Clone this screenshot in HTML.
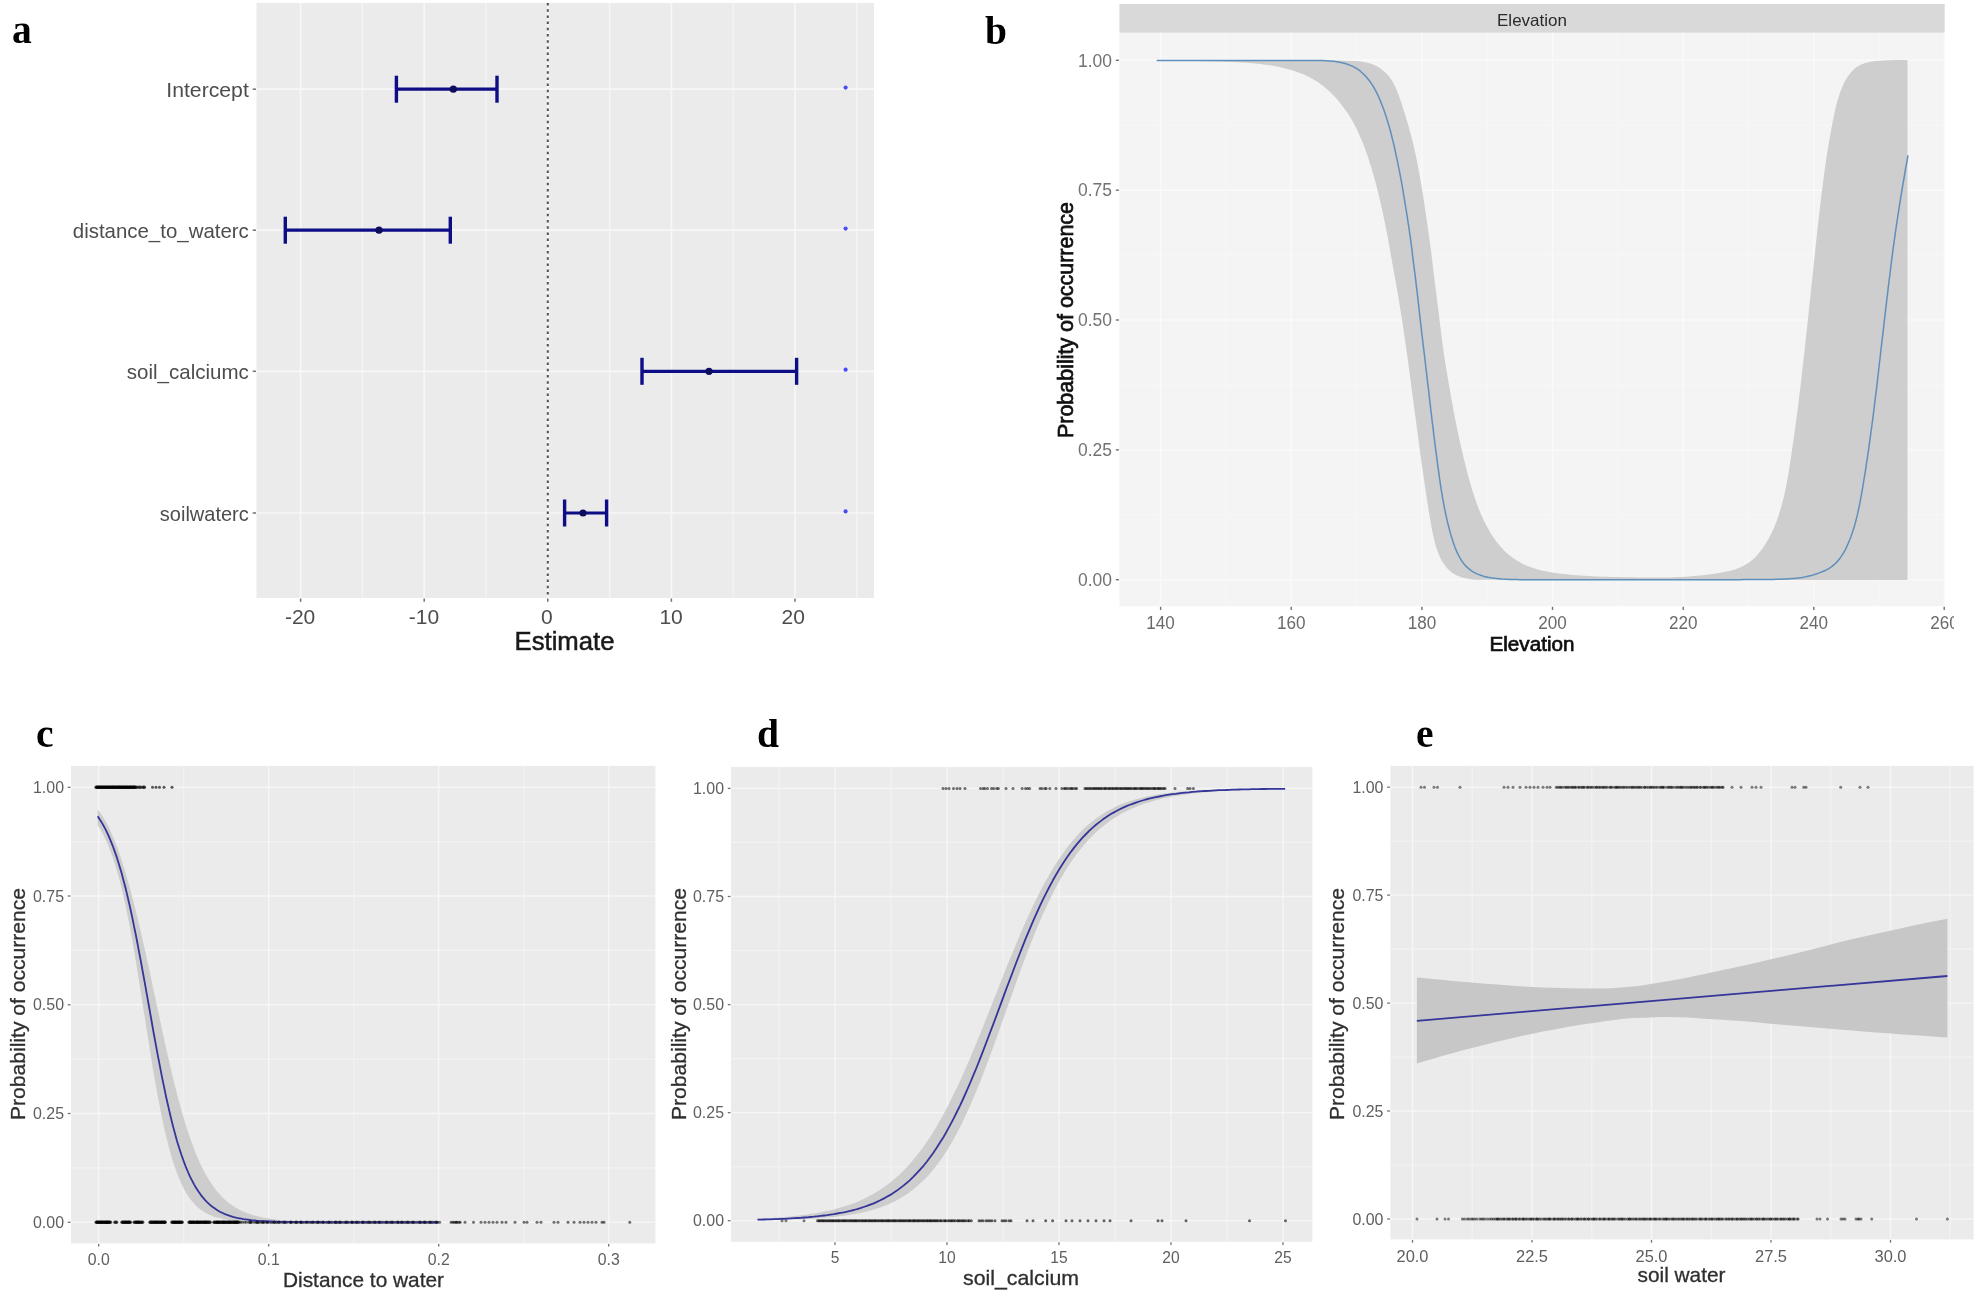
<!DOCTYPE html>
<html lang="en">
<head>
<meta charset="utf-8">
<title>Model estimates and response curves</title>
<style>html,body{margin:0;padding:0;background:#fff}body{width:1983px;height:1298px;overflow:hidden}svg{display:block}</style>
</head>
<body>
<svg width="1983" height="1298" viewBox="0 0 1983 1298" font-family='"Liberation Sans", Arial, sans-serif'>
<defs><filter id="soft" x="-2%" y="-2%" width="104%" height="104%"><feGaussianBlur stdDeviation="0.7"/></filter></defs>
<rect width="1983" height="1298" fill="#ffffff"/>
<g filter="url(#soft)">
<text x="12" y="42.7" font-size="39.5" fill="#000" text-anchor="start" font-family='"Liberation Serif", "Times New Roman", serif' font-weight="bold">a</text>
<text x="985" y="43.8" font-size="39.5" fill="#000" text-anchor="start" font-family='"Liberation Serif", "Times New Roman", serif' font-weight="bold">b</text>
<text x="36" y="747" font-size="39.5" fill="#000" text-anchor="start" font-family='"Liberation Serif", "Times New Roman", serif' font-weight="bold">c</text>
<text x="757" y="747" font-size="39.5" fill="#000" text-anchor="start" font-family='"Liberation Serif", "Times New Roman", serif' font-weight="bold">d</text>
<text x="1416" y="747" font-size="39.5" fill="#000" text-anchor="start" font-family='"Liberation Serif", "Times New Roman", serif' font-weight="bold">e</text>
<rect x="256.5" y="3" width="617.5" height="595" fill="#ebebeb"/>
<line x1="362.4" y1="3" x2="362.4" y2="598" stroke="#f5f5f5" stroke-width="1.3"/>
<line x1="486" y1="3" x2="486" y2="598" stroke="#f5f5f5" stroke-width="1.3"/>
<line x1="609.6" y1="3" x2="609.6" y2="598" stroke="#f5f5f5" stroke-width="1.3"/>
<line x1="733.2" y1="3" x2="733.2" y2="598" stroke="#f5f5f5" stroke-width="1.3"/>
<line x1="856.8" y1="3" x2="856.8" y2="598" stroke="#f5f5f5" stroke-width="1.3"/>
<line x1="300.6" y1="3" x2="300.6" y2="598" stroke="#f7f7f7" stroke-width="1.7"/>
<line x1="300.6" y1="598.5" x2="300.6" y2="601.8" stroke="#707070" stroke-width="1.5"/>
<text x="300.1" y="623.7" font-size="21" fill="#4d4d4d" text-anchor="middle">-20</text>
<line x1="424.2" y1="3" x2="424.2" y2="598" stroke="#f7f7f7" stroke-width="1.7"/>
<line x1="424.2" y1="598.5" x2="424.2" y2="601.8" stroke="#707070" stroke-width="1.5"/>
<text x="423.9" y="623.7" font-size="21" fill="#4d4d4d" text-anchor="middle">-10</text>
<line x1="547.8" y1="3" x2="547.8" y2="598" stroke="#f7f7f7" stroke-width="1.7"/>
<line x1="547.8" y1="598.5" x2="547.8" y2="601.8" stroke="#707070" stroke-width="1.5"/>
<text x="546.8" y="623.7" font-size="21" fill="#4d4d4d" text-anchor="middle">0</text>
<line x1="671.4" y1="3" x2="671.4" y2="598" stroke="#f7f7f7" stroke-width="1.7"/>
<line x1="671.4" y1="598.5" x2="671.4" y2="601.8" stroke="#707070" stroke-width="1.5"/>
<text x="671.1" y="623.7" font-size="21" fill="#4d4d4d" text-anchor="middle">10</text>
<line x1="795" y1="3" x2="795" y2="598" stroke="#f7f7f7" stroke-width="1.7"/>
<line x1="795" y1="598.5" x2="795" y2="601.8" stroke="#707070" stroke-width="1.5"/>
<text x="793.3" y="623.7" font-size="21" fill="#4d4d4d" text-anchor="middle">20</text>
<line x1="256.5" y1="89.2" x2="874" y2="89.2" stroke="#f7f7f7" stroke-width="1.7"/>
<line x1="252.7" y1="89.2" x2="256" y2="89.2" stroke="#707070" stroke-width="1.5"/>
<line x1="256.5" y1="230.2" x2="874" y2="230.2" stroke="#f7f7f7" stroke-width="1.7"/>
<line x1="252.7" y1="230.2" x2="256" y2="230.2" stroke="#707070" stroke-width="1.5"/>
<line x1="256.5" y1="371.3" x2="874" y2="371.3" stroke="#f7f7f7" stroke-width="1.7"/>
<line x1="252.7" y1="371.3" x2="256" y2="371.3" stroke="#707070" stroke-width="1.5"/>
<line x1="256.5" y1="513" x2="874" y2="513" stroke="#f7f7f7" stroke-width="1.7"/>
<line x1="252.7" y1="513" x2="256" y2="513" stroke="#707070" stroke-width="1.5"/>
<line x1="547.8" y1="3" x2="547.8" y2="598" stroke="#505050" stroke-width="2.0" stroke-dasharray="2.5 3.7"/>
<text x="248.8" y="97.2" font-size="21" fill="#4d4d4d" text-anchor="end" textLength="82.5" lengthAdjust="spacingAndGlyphs">Intercept</text>
<text x="248.8" y="238.2" font-size="21" fill="#4d4d4d" text-anchor="end" textLength="176" lengthAdjust="spacingAndGlyphs">distance_to_waterc</text>
<text x="248.8" y="379.3" font-size="21" fill="#4d4d4d" text-anchor="end" textLength="122" lengthAdjust="spacingAndGlyphs">soil_calciumc</text>
<text x="248.8" y="521" font-size="21" fill="#4d4d4d" text-anchor="end" textLength="89" lengthAdjust="spacingAndGlyphs">soilwaterc</text>
<line x1="396.4" y1="89.2" x2="497" y2="89.2" stroke="#0c0c86" stroke-width="3.2"/>
<line x1="396.4" y1="75.7" x2="396.4" y2="102.7" stroke="#0c0c86" stroke-width="3.4"/>
<line x1="497" y1="75.7" x2="497" y2="102.7" stroke="#0c0c86" stroke-width="3.4"/>
<circle cx="453.3" cy="89.2" r="3.6" fill="#0a0a5c"/>
<circle cx="845.6" cy="87.6" r="2.1" fill="#4b4bf5"/>
<line x1="285.3" y1="230.2" x2="450.3" y2="230.2" stroke="#0c0c86" stroke-width="3.2"/>
<line x1="285.3" y1="216.7" x2="285.3" y2="243.7" stroke="#0c0c86" stroke-width="3.4"/>
<line x1="450.3" y1="216.7" x2="450.3" y2="243.7" stroke="#0c0c86" stroke-width="3.4"/>
<circle cx="379" cy="230.2" r="3.6" fill="#0a0a5c"/>
<circle cx="845.6" cy="228.6" r="2.1" fill="#4b4bf5"/>
<line x1="642" y1="371.3" x2="796.6" y2="371.3" stroke="#0c0c86" stroke-width="3.2"/>
<line x1="642" y1="357.8" x2="642" y2="384.8" stroke="#0c0c86" stroke-width="3.4"/>
<line x1="796.6" y1="357.8" x2="796.6" y2="384.8" stroke="#0c0c86" stroke-width="3.4"/>
<circle cx="709" cy="371.3" r="3.6" fill="#0a0a5c"/>
<circle cx="845.6" cy="369.7" r="2.1" fill="#4b4bf5"/>
<line x1="564.6" y1="513" x2="606.6" y2="513" stroke="#0c0c86" stroke-width="3.2"/>
<line x1="564.6" y1="499.5" x2="564.6" y2="526.5" stroke="#0c0c86" stroke-width="3.4"/>
<line x1="606.6" y1="499.5" x2="606.6" y2="526.5" stroke="#0c0c86" stroke-width="3.4"/>
<circle cx="583" cy="513" r="3.6" fill="#0a0a5c"/>
<circle cx="845.6" cy="511.4" r="2.1" fill="#4b4bf5"/>
<text x="564.5" y="650" font-size="25.5" fill="#1a1a1a" text-anchor="middle" textLength="100" lengthAdjust="spacingAndGlyphs" stroke="#1a1a1a" stroke-width="0.5">Estimate</text>
<rect x="1119.4" y="4" width="825.3" height="28.8" fill="#d9d9d9"/>
<rect x="1119.4" y="32.8" width="825.3" height="573.5" fill="#f4f4f4"/>
<line x1="1225.9" y1="32.8" x2="1225.9" y2="606.3" stroke="#f7f7f7" stroke-width="0.9"/>
<line x1="1356.6" y1="32.8" x2="1356.6" y2="606.3" stroke="#f7f7f7" stroke-width="0.9"/>
<line x1="1487.2" y1="32.8" x2="1487.2" y2="606.3" stroke="#f7f7f7" stroke-width="0.9"/>
<line x1="1617.8" y1="32.8" x2="1617.8" y2="606.3" stroke="#f7f7f7" stroke-width="0.9"/>
<line x1="1748.5" y1="32.8" x2="1748.5" y2="606.3" stroke="#f7f7f7" stroke-width="0.9"/>
<line x1="1879.1" y1="32.8" x2="1879.1" y2="606.3" stroke="#f7f7f7" stroke-width="0.9"/>
<line x1="1119.4" y1="514.8" x2="1944.7" y2="514.8" stroke="#f7f7f7" stroke-width="0.9"/>
<line x1="1119.4" y1="384.9" x2="1944.7" y2="384.9" stroke="#f7f7f7" stroke-width="0.9"/>
<line x1="1119.4" y1="255.1" x2="1944.7" y2="255.1" stroke="#f7f7f7" stroke-width="0.9"/>
<line x1="1119.4" y1="125.2" x2="1944.7" y2="125.2" stroke="#f7f7f7" stroke-width="0.9"/>
<line x1="1160.6" y1="32.8" x2="1160.6" y2="606.3" stroke="#fafafa" stroke-width="1.4"/>
<line x1="1160.6" y1="606.8" x2="1160.6" y2="609.9" stroke="#707070" stroke-width="1.4"/>
<line x1="1291.2" y1="32.8" x2="1291.2" y2="606.3" stroke="#fafafa" stroke-width="1.4"/>
<line x1="1291.2" y1="606.8" x2="1291.2" y2="609.9" stroke="#707070" stroke-width="1.4"/>
<line x1="1421.9" y1="32.8" x2="1421.9" y2="606.3" stroke="#fafafa" stroke-width="1.4"/>
<line x1="1421.9" y1="606.8" x2="1421.9" y2="609.9" stroke="#707070" stroke-width="1.4"/>
<line x1="1552.5" y1="32.8" x2="1552.5" y2="606.3" stroke="#fafafa" stroke-width="1.4"/>
<line x1="1552.5" y1="606.8" x2="1552.5" y2="609.9" stroke="#707070" stroke-width="1.4"/>
<line x1="1683.2" y1="32.8" x2="1683.2" y2="606.3" stroke="#fafafa" stroke-width="1.4"/>
<line x1="1683.2" y1="606.8" x2="1683.2" y2="609.9" stroke="#707070" stroke-width="1.4"/>
<line x1="1813.8" y1="32.8" x2="1813.8" y2="606.3" stroke="#fafafa" stroke-width="1.4"/>
<line x1="1813.8" y1="606.8" x2="1813.8" y2="609.9" stroke="#707070" stroke-width="1.4"/>
<line x1="1944.4" y1="32.8" x2="1944.4" y2="606.3" stroke="#fafafa" stroke-width="1.4"/>
<line x1="1944.2" y1="606.8" x2="1944.2" y2="609.9" stroke="#707070" stroke-width="1.4"/>
<line x1="1119.4" y1="579.7" x2="1944.7" y2="579.7" stroke="#fafafa" stroke-width="1.4"/>
<line x1="1115.8" y1="579.7" x2="1118.9" y2="579.7" stroke="#707070" stroke-width="1.4"/>
<text x="1112" y="585.9" font-size="17.5" fill="#727272" text-anchor="end" textLength="34" lengthAdjust="spacingAndGlyphs">0.00</text>
<line x1="1119.4" y1="449.9" x2="1944.7" y2="449.9" stroke="#fafafa" stroke-width="1.4"/>
<line x1="1115.8" y1="449.9" x2="1118.9" y2="449.9" stroke="#707070" stroke-width="1.4"/>
<text x="1112" y="456.1" font-size="17.5" fill="#727272" text-anchor="end" textLength="34" lengthAdjust="spacingAndGlyphs">0.25</text>
<line x1="1119.4" y1="320" x2="1944.7" y2="320" stroke="#fafafa" stroke-width="1.4"/>
<line x1="1115.8" y1="320" x2="1118.9" y2="320" stroke="#707070" stroke-width="1.4"/>
<text x="1112" y="326.2" font-size="17.5" fill="#727272" text-anchor="end" textLength="34" lengthAdjust="spacingAndGlyphs">0.50</text>
<line x1="1119.4" y1="190.2" x2="1944.7" y2="190.2" stroke="#fafafa" stroke-width="1.4"/>
<line x1="1115.8" y1="190.2" x2="1118.9" y2="190.2" stroke="#707070" stroke-width="1.4"/>
<text x="1112" y="196.4" font-size="17.5" fill="#727272" text-anchor="end" textLength="34" lengthAdjust="spacingAndGlyphs">0.75</text>
<line x1="1119.4" y1="60.3" x2="1944.7" y2="60.3" stroke="#fafafa" stroke-width="1.4"/>
<line x1="1115.8" y1="60.3" x2="1118.9" y2="60.3" stroke="#707070" stroke-width="1.4"/>
<text x="1112" y="66.5" font-size="17.5" fill="#727272" text-anchor="end" textLength="34" lengthAdjust="spacingAndGlyphs">1.00</text>
<polygon points="1156.7,60.5 1161.9,60.5 1165.1,60.5 1168.8,60.5 1172.7,60.5 1175.7,60.5 1179.7,60.5 1183.7,60.5 1187.7,60.5 1191.7,60.5 1195.7,60.5 1199.7,60.5 1203.7,60.5 1207.7,60.5 1210.7,60.5 1214.7,60.5 1218.7,60.5 1222.7,60.5 1226.7,60.5 1230.7,60.5 1234.7,60.5 1238.7,60.5 1241.7,60.5 1245.7,60.5 1249.7,60.5 1253.7,60.5 1257.7,60.5 1261.7,60.5 1265.7,60.5 1269.7,60.5 1273.7,60.5 1276.7,60.5 1280.7,60.5 1284.7,60.5 1288.7,60.5 1292.7,60.5 1296.7,60.5 1300.7,60.5 1304.7,60.5 1308.7,60.5 1311.7,60.5 1315.7,60.5 1319.7,60.5 1323.7,60.6 1327.8,60.6 1331.8,60.6 1335.8,60.6 1339.8,60.6 1342.8,60.7 1346.8,60.8 1350.8,60.9 1354.8,61 1358.8,61.3 1362.7,61.8 1366.6,62.5 1370.4,63.6 1374.1,65 1376.8,66.3 1380.2,68.3 1383.3,70.7 1386.2,73.3 1388.9,76.3 1391.2,79.5 1393.3,82.8 1395.1,86.4 1396.7,90 1397.8,92.8 1399.2,96.6 1400.5,100.3 1401.8,104.1 1403,108 1404.2,111.8 1405.4,115.6 1406.5,119.4 1407.4,122.3 1408.5,126.1 1409.6,130 1410.6,133.9 1411.7,137.7 1412.6,141.6 1413.6,145.5 1414.5,149.4 1415.3,153.3 1416,156.2 1416.8,160.2 1417.6,164.1 1418.3,168 1419,171.9 1419.8,175.9 1420.4,179.8 1421.1,183.8 1421.8,187.7 1422.2,190.7 1422.9,194.6 1423.5,198.6 1424.1,202.5 1424.7,206.5 1425.3,210.4 1425.9,214.4 1426.5,218.4 1426.9,221.3 1427.5,225.3 1428,229.2 1428.6,233.2 1429.2,237.2 1429.7,241.1 1430.2,245.1 1430.8,249.1 1431.3,253 1431.6,256 1432.1,260 1432.6,264 1433.1,267.9 1433.6,271.9 1434.1,275.9 1434.5,279.8 1435,283.8 1435.5,287.8 1435.9,290.8 1436.4,294.7 1436.9,298.7 1437.4,302.7 1437.9,306.6 1438.4,310.6 1438.9,314.6 1439.4,318.6 1439.7,321.5 1440.2,325.5 1440.7,329.5 1441.2,333.4 1441.7,337.4 1442.2,341.4 1442.7,345.3 1443.3,349.3 1443.8,353.3 1444.3,356.2 1444.9,360.2 1445.5,364.1 1446.1,368.1 1446.8,372 1447.5,376 1448.2,379.9 1448.8,383.9 1449.5,387.8 1450,390.8 1450.7,394.7 1451.4,398.7 1452.1,402.6 1452.8,406.5 1453.5,410.5 1454.3,414.4 1455,418.3 1455.6,421.3 1456.4,425.2 1457.2,429.1 1458,433 1458.9,436.9 1459.7,440.9 1460.6,444.8 1461.5,448.7 1462.4,452.6 1463.1,455.5 1464,459.4 1465,463.3 1465.9,467.1 1466.9,471 1467.9,474.9 1469,478.8 1470.1,482.6 1471.2,486.4 1472,489.3 1473.2,493.1 1474.5,497 1475.8,500.7 1477.1,504.5 1478.5,508.2 1480,511.9 1481.6,515.6 1482.9,518.3 1484.6,522 1486.4,525.5 1488.3,529 1490.3,532.5 1492.5,535.9 1494.7,539.2 1497.1,542.4 1499.6,545.5 1501.6,547.8 1504.3,550.7 1507.2,553.4 1510.3,555.9 1513.5,558.3 1516.8,560.5 1520.3,562.5 1523.8,564.4 1527.5,566 1530.3,567 1534,568.3 1537.9,569.4 1541.8,570.4 1545.7,571.3 1549.6,572 1553.6,572.7 1557.5,573.3 1560.5,573.7 1564.5,574.1 1568.5,574.6 1572.4,574.9 1576.4,575.3 1580.4,575.6 1584.4,575.8 1588.4,576.1 1592.4,576.3 1595.4,576.4 1599.4,576.6 1603.4,576.7 1607.4,576.8 1611.4,576.9 1615.4,577 1619.4,577.1 1623.4,577.2 1627.4,577.2 1630.4,577.3 1634.4,577.3 1638.4,577.4 1642.4,577.4 1646.4,577.5 1650.4,577.5 1654.4,577.5 1658.4,577.5 1661.4,577.5 1665.4,577.5 1669.4,577.4 1673.5,577.3 1677.5,577.1 1681.5,576.9 1685.6,576.7 1689.6,576.4 1693.6,576 1696.6,575.8 1700.6,575.4 1704.6,574.9 1708.6,574.5 1712.5,573.9 1716.5,573.4 1720.4,572.8 1724.3,572.1 1728.2,571.3 1731.1,570.6 1734.9,569.4 1738.7,568 1742.3,566.4 1745.8,564.5 1749.1,562.4 1752.2,560 1755.1,557.4 1757.1,555.2 1759.7,552.1 1762.2,548.9 1764.4,545.5 1766.6,542.1 1768.6,538.7 1770.5,535.1 1772.3,531.5 1773.9,527.9 1775.1,525.1 1776.5,521.4 1777.9,517.6 1779.1,513.8 1780.3,510 1781.4,506.2 1782.5,502.3 1783.4,498.4 1784.4,494.5 1785,491.6 1785.8,487.7 1786.6,483.7 1787.3,479.8 1788,475.9 1788.7,471.9 1789.3,468 1789.9,464 1790.4,461 1791,457.1 1791.6,453.1 1792.1,449.1 1792.7,445.2 1793.3,441.2 1793.9,437.3 1794.4,433.3 1795,429.3 1795.4,426.4 1795.9,422.4 1796.4,418.4 1796.9,414.5 1797.5,410.5 1798,406.5 1798.5,402.6 1799,398.6 1799.4,394.6 1799.8,391.6 1800.3,387.7 1800.8,383.7 1801.2,379.7 1801.7,375.7 1802.1,371.8 1802.6,367.8 1803,363.8 1803.4,360.8 1803.8,356.9 1804.3,352.9 1804.7,348.9 1805.1,344.9 1805.6,341 1806,337 1806.4,333 1806.9,329 1807.2,326 1807.6,322.1 1808.1,318.1 1808.5,314.1 1808.9,310.1 1809.3,306.1 1809.7,302.2 1810.2,298.2 1810.6,294.2 1810.9,291.2 1811.3,287.2 1811.7,283.3 1812.2,279.3 1812.6,275.3 1813,271.3 1813.4,267.4 1813.8,263.4 1814.2,260.4 1814.6,256.4 1815,252.4 1815.4,248.4 1815.8,244.5 1816.3,240.5 1816.7,236.5 1817.1,232.5 1817.6,228.6 1817.9,225.6 1818.3,221.6 1818.8,217.6 1819.3,213.7 1819.7,209.7 1820.2,205.7 1820.7,201.7 1821.1,197.8 1821.6,193.8 1822,190.8 1822.5,186.8 1823,182.9 1823.5,178.9 1824,174.9 1824.6,171 1825.1,167 1825.7,163 1826.1,160.1 1826.7,156.1 1827.3,152.2 1828,148.2 1828.6,144.3 1829.3,140.3 1830,136.4 1830.7,132.4 1831.4,128.5 1832,125.6 1832.7,121.6 1833.5,117.7 1834.4,113.8 1835.2,109.8 1836.1,105.9 1837.1,102.1 1838.2,98.2 1839.5,94.4 1840.4,91.6 1841.9,87.9 1843.5,84.2 1845.3,80.6 1847.3,77.2 1849.6,73.9 1852.2,70.9 1855,68.3 1857.4,66.6 1860.8,64.7 1864.4,63.3 1868.3,62.3 1872.2,61.5 1876.1,61 1880.1,60.7 1884.1,60.4 1888.1,60.3 1891.1,60.2 1895,60.1 1898.7,60.1 1901.9,60.1 1907.2,60.1 1907.5,60.3 1907.5,580 1907.5,580 1475.1,579.8 1470.5,579.3 1469.1,579.1 1466.7,578.6 1464,578 1461.3,577.2 1459.5,576.6 1456.8,575.4 1454.2,574 1451.8,572.4 1450.3,571.2 1448.1,569.2 1446.1,567 1444.3,564.6 1443.2,563 1441.7,560.4 1440.3,557.8 1439.5,556 1438.3,553.2 1437.3,550.4 1436.3,547.5 1435.7,545.6 1434.9,542.7 1434.2,539.8 1433.5,536.9 1433.1,534.9 1432.4,532 1431.9,529.1 1431.3,526.1 1431,524.1 1430.5,521.2 1430,518.2 1429.6,516.2 1429.1,513.3 1428.6,510.3 1428.2,507.3 1427.9,505.4 1427.4,502.4 1426.9,499.4 1426.5,496.5 1426.2,494.5 1425.7,491.5 1425.3,488.5 1424.9,485.6 1424.6,483.6 1424.1,480.6 1423.7,477.7 1423.4,475.7 1423,472.7 1422.6,469.7 1422.1,466.8 1421.9,464.8 1421.4,461.8 1421,458.8 1420.6,455.9 1420.3,453.9 1419.9,450.9 1419.5,447.9 1419.1,445 1418.9,443 1418.5,440 1418.1,437 1417.8,435 1417.4,432.1 1417,429.1 1416.6,426.1 1416.4,424.1 1416,421.2 1415.6,418.2 1415.2,415.2 1414.9,413.2 1414.5,410.2 1414.1,407.3 1413.7,404.3 1413.5,402.3 1413.1,399.3 1412.7,396.4 1412.4,394.4 1412,391.4 1411.6,388.4 1411.2,385.5 1411,383.5 1410.6,380.5 1410.2,377.5 1409.8,374.5 1409.5,372.6 1409.1,369.6 1408.7,366.6 1408.3,363.6 1408.1,361.7 1407.7,358.7 1407.2,355.7 1407,353.7 1406.6,350.8 1406.1,347.8 1405.7,344.8 1405.4,342.8 1405,339.9 1404.5,336.9 1404.1,333.9 1403.8,331.9 1403.4,329 1402.9,326 1402.5,323 1402.2,321.1 1401.7,318.1 1401.2,315.1 1400.9,313.2 1400.5,310.2 1400,307.2 1399.5,304.3 1399.2,302.3 1398.7,299.3 1398.2,296.4 1397.7,293.4 1397.4,291.4 1396.8,288.5 1396.3,285.5 1395.8,282.6 1395.5,280.6 1394.9,277.6 1394.4,274.7 1394,272.7 1393.5,269.8 1393,266.8 1392.4,263.9 1392.1,261.9 1391.6,258.9 1391,256 1390.5,253 1390.2,251.1 1389.7,248.1 1389.1,245.1 1388.6,242.2 1388.2,240.2 1387.7,237.3 1387.2,234.3 1386.6,231.4 1386.2,229.4 1385.6,226.5 1385,223.5 1384.6,221.6 1384,218.6 1383.4,215.7 1382.8,212.7 1382.4,210.8 1381.7,207.9 1381.1,204.9 1380.4,202 1379.9,200.1 1379.2,197.1 1378.5,194.2 1377.8,191.3 1377.3,189.4 1376.6,186.5 1375.8,183.6 1375.3,181.6 1374.5,178.7 1373.7,175.8 1372.9,172.9 1372.3,171 1371.5,168.1 1370.6,165.3 1369.7,162.4 1369.1,160.5 1368.2,157.7 1367.2,154.8 1366.2,152 1365.5,150.1 1364.5,147.3 1363.4,144.5 1362.6,142.6 1361.5,139.9 1360.3,137.1 1359.1,134.4 1358.3,132.5 1357,129.8 1355.7,127.1 1354.3,124.5 1353.4,122.7 1351.9,120.1 1350.4,117.5 1348.8,115 1347.7,113.3 1346,110.8 1344.2,108.4 1343,106.8 1341.2,104.4 1339.3,102.1 1337.4,99.8 1336.1,98.3 1334.1,96 1332,93.9 1329.9,91.8 1328.4,90.4 1326.2,88.4 1323.8,86.5 1321.5,84.7 1319.8,83.5 1317.4,81.8 1314.8,80.3 1313.1,79.2 1310.5,77.8 1307.8,76.4 1305.1,75.1 1303.3,74.3 1300.5,73.2 1297.7,72.2 1294.9,71.2 1293,70.6 1290.1,69.7 1287.2,68.9 1284.3,68.2 1282.3,67.7 1279.4,67.1 1276.5,66.5 1274.5,66.1 1271.6,65.6 1268.6,65.1 1265.6,64.7 1263.6,64.5 1260.6,64.1 1257.7,63.8 1254.7,63.5 1252.7,63.3 1249.7,63.1 1246.7,62.8 1243.7,62.6 1241.7,62.5 1238.7,62.3 1235.7,62.2 1233.7,62.1 1230.7,62 1227.7,61.9 1224.7,61.8 1222.7,61.7 1219.7,61.6 1216.7,61.5 1213.7,61.4 1211.7,61.4 1208.7,61.3 1205.7,61.2 1202.7,61.2 1200.7,61.1 1197.7,61.1 1194.7,61 1192.7,61 1189.7,60.9 1186.7,60.9 1183.7,60.8 1181.7,60.8 1178.7,60.7 1175.7,60.7 1172.7,60.7 1170.8,60.7 1167.9,60.6 1165.1,60.6 1162.7,60.6 1161.2,60.6 1156.7,60.5" fill="#cecece"/>
<polyline points="1156.7,60.5 1162,60.5 1164.3,60.5 1168,60.5 1170.9,60.5 1174.8,60.5 1178.9,60.5 1181.9,60.5 1185.9,60.5 1188.9,60.5 1192.9,60.5 1197,60.5 1200,60.5 1204,60.5 1207,60.5 1211,60.5 1215,60.5 1218,60.5 1222,60.5 1226,60.5 1229,60.5 1233,60.5 1236,60.5 1240,60.5 1244,60.5 1247,60.5 1251,60.5 1254,60.5 1258,60.5 1262,60.5 1265,60.5 1269,60.5 1272,60.5 1276,60.5 1280,60.5 1283,60.5 1287,60.5 1290,60.5 1294,60.5 1297.9,60.5 1300.9,60.5 1304.9,60.5 1307.9,60.5 1311.9,60.5 1315.9,60.6 1318.9,60.6 1322.8,60.6 1325.8,60.7 1329.8,60.9 1333.8,61.3 1336.7,61.7 1340.7,62.4 1344.5,63.3 1347.4,64.2 1351.1,65.6 1353.7,66.9 1357.2,68.9 1360.4,71.2 1362.6,73.2 1365.4,75.9 1367.4,78.2 1369.8,81.3 1372.1,84.6 1373.7,87.2 1375.6,90.7 1377,93.3 1378.7,97 1380.2,100.6 1381.4,103.4 1382.8,107.1 1383.9,110 1385.2,113.7 1386.4,117.5 1387.3,120.4 1388.5,124.2 1389.3,127.1 1390.4,131 1391.4,134.8 1392.1,137.7 1393.1,141.6 1393.8,144.6 1394.7,148.5 1395.5,152.4 1396.1,155.3 1397,159.2 1397.8,163.1 1398.4,166.1 1399.2,170 1399.8,173 1400.5,176.9 1401.3,180.8 1401.8,183.8 1402.5,187.7 1403,190.7 1403.6,194.6 1404.3,198.6 1404.8,201.5 1405.4,205.5 1405.9,208.4 1406.5,212.4 1407.2,216.4 1407.6,219.3 1408.2,223.3 1408.7,226.2 1409.3,230.2 1409.8,234.2 1410.3,237.1 1410.8,241.1 1411.2,244.1 1411.7,248 1412.2,252 1412.5,255 1413,259 1413.5,262.9 1413.9,265.9 1414.4,269.9 1414.8,272.9 1415.3,276.8 1415.8,280.8 1416.1,283.8 1416.6,287.8 1417,290.7 1417.4,294.7 1417.9,298.7 1418.2,301.7 1418.7,305.7 1419,308.6 1419.4,312.6 1419.9,316.6 1420.2,319.6 1420.7,323.6 1421,326.5 1421.5,330.5 1421.9,334.5 1422.3,337.5 1422.8,341.4 1423.1,344.4 1423.6,348.4 1424.1,352.4 1424.5,355.4 1424.9,359.3 1425.3,362.3 1425.7,366.3 1426.2,370.3 1426.6,373.2 1427,377.2 1427.5,381.2 1427.8,384.2 1428.3,388.1 1428.7,391.1 1429.1,395.1 1429.6,399.1 1429.9,402.1 1430.4,406 1430.7,409 1431.2,413 1431.7,417 1432,420 1432.5,423.9 1432.9,426.9 1433.4,430.9 1433.8,434.9 1434.2,437.8 1434.7,441.8 1435.1,444.8 1435.6,448.8 1436.1,452.7 1436.5,455.7 1437,459.7 1437.4,462.6 1437.9,466.6 1438.5,470.6 1438.9,473.6 1439.4,477.5 1439.9,480.5 1440.4,484.5 1441,488.4 1441.5,491.4 1442.2,495.3 1442.8,499.3 1443.4,502.2 1444.1,506.1 1444.7,509.1 1445.5,513 1446.3,516.9 1447,519.9 1447.9,523.8 1448.7,526.7 1449.7,530.5 1450.7,534.4 1451.6,537.3 1452.8,541.1 1453.8,544 1455.1,547.7 1456.7,551.4 1457.9,554.2 1459.8,557.7 1461.3,560.2 1463.6,563.4 1466.2,566.4 1468.4,568.4 1471.5,570.8 1474,572.3 1477.6,574.1 1481.3,575.5 1484.1,576.4 1488,577.3 1490.9,577.8 1494.9,578.3 1498.9,578.7 1501.9,579 1505.9,579.2 1509.9,579.4 1512.9,579.5 1516.9,579.6 1519.9,579.7 1523.9,579.7 1527.9,579.8 1530.9,579.8 1534.9,579.8 1537.9,579.8 1541.9,579.8 1545.9,579.8 1548.9,579.8 1552.9,579.8 1555.9,579.8 1559.9,579.8 1563.9,579.8 1566.9,579.8 1570.9,579.8 1573.9,579.8 1577.9,579.8 1581.9,579.8 1584.9,579.8 1588.9,579.8 1591.9,579.8 1595.9,579.8 1599.9,579.8 1602.9,579.8 1606.9,579.8 1609.9,579.8 1613.9,579.8 1617.9,579.8 1620.9,579.8 1624.9,579.8 1628.9,579.8 1631.9,579.8 1636,579.8 1639,579.8 1643,579.8 1647,579.8 1650,579.8 1654,579.8 1657,579.8 1661,579.8 1665,579.8 1668,579.8 1672,579.8 1675,579.8 1679,579.8 1683,579.8 1686,579.8 1690,579.8 1693,579.8 1697,579.8 1701,579.8 1704,579.8 1708,579.8 1711,579.8 1715,579.7 1719,579.7 1722,579.7 1726,579.7 1729,579.7 1733,579.7 1737,579.7 1740,579.7 1744,579.6 1748,579.6 1751,579.6 1755,579.6 1758,579.6 1762,579.5 1766,579.5 1769,579.4 1773,579.4 1776,579.3 1780.1,579.2 1784.1,579 1787.1,578.9 1791.1,578.6 1794.1,578.4 1798,578 1802,577.5 1804.9,577 1808.8,576.1 1811.7,575.4 1815.5,574.2 1819.3,572.9 1822.1,571.8 1825.8,570.2 1828.4,568.8 1831.7,566.6 1834.7,564.1 1836.8,562.1 1839.4,559 1841.1,556.6 1843.2,553.3 1845.2,549.8 1846.5,547.1 1848.2,543.4 1849.7,539.8 1850.8,536.9 1852.1,533.2 1853.1,530.3 1854.3,526.5 1855.4,522.6 1856.1,519.7 1857.1,515.9 1857.8,512.9 1858.6,509 1859.5,505.1 1860,502.2 1860.8,498.2 1861.3,495.3 1862,491.3 1862.7,487.4 1863.2,484.4 1863.8,480.5 1864.3,477.5 1865,473.5 1865.6,469.6 1866,466.6 1866.6,462.7 1867.1,459.7 1867.7,455.7 1868.2,451.8 1868.7,448.8 1869.2,444.8 1869.8,440.9 1870.2,437.9 1870.7,433.9 1871.1,431 1871.7,427 1872.2,423 1872.6,420.1 1873.1,416.1 1873.5,413.1 1874,409.1 1874.5,405.2 1874.8,402.2 1875.3,398.2 1875.7,395.2 1876.2,391.3 1876.7,387.3 1877,384.3 1877.5,380.3 1877.8,377.3 1878.3,373.4 1878.7,369.4 1879.1,366.4 1879.5,362.4 1879.9,359.5 1880.3,355.5 1880.8,351.5 1881.1,348.5 1881.6,344.5 1881.9,341.6 1882.4,337.6 1882.9,333.6 1883.2,330.6 1883.7,326.6 1884.1,322.7 1884.5,319.7 1884.9,315.7 1885.3,312.7 1885.7,308.8 1886.2,304.8 1886.6,301.8 1887,297.8 1887.4,294.8 1887.9,290.9 1888.3,286.9 1888.7,283.9 1889.2,279.9 1889.6,277 1890.1,273 1890.6,269 1890.9,266 1891.4,262.1 1891.8,259.1 1892.3,255.1 1892.8,251.2 1893.2,248.2 1893.8,244.2 1894.2,241.2 1894.7,237.3 1895.3,233.3 1895.7,230.3 1896.3,226.4 1896.7,223.4 1897.3,219.5 1897.9,215.5 1898.4,212.5 1899,208.6 1899.6,204.6 1900.1,201.7 1900.7,197.7 1901.2,194.7 1901.8,190.8 1902.5,186.8 1903,183.9 1903.7,179.9 1904.2,177 1904.9,173 1905.5,169.2 1906,166.3 1906.7,162.8 1907.1,160.5 1908,155.3" fill="none" stroke="#5f8fbc" stroke-width="1.5" stroke-linejoin="round"/>
<clipPath id="cb"><rect x="1100" y="600" width="854" height="40"/></clipPath>
<g clip-path="url(#cb)">
<text x="1160.6" y="628.5" font-size="17.5" fill="#6a6a6a" text-anchor="middle" textLength="28.5" lengthAdjust="spacingAndGlyphs">140</text>
<text x="1291.2" y="628.5" font-size="17.5" fill="#6a6a6a" text-anchor="middle" textLength="28.5" lengthAdjust="spacingAndGlyphs">160</text>
<text x="1421.9" y="628.5" font-size="17.5" fill="#6a6a6a" text-anchor="middle" textLength="28.5" lengthAdjust="spacingAndGlyphs">180</text>
<text x="1552.5" y="628.5" font-size="17.5" fill="#6a6a6a" text-anchor="middle" textLength="28.5" lengthAdjust="spacingAndGlyphs">200</text>
<text x="1683.2" y="628.5" font-size="17.5" fill="#6a6a6a" text-anchor="middle" textLength="28.5" lengthAdjust="spacingAndGlyphs">220</text>
<text x="1813.8" y="628.5" font-size="17.5" fill="#6a6a6a" text-anchor="middle" textLength="28.5" lengthAdjust="spacingAndGlyphs">240</text>
<text x="1944.4" y="628.5" font-size="17.5" fill="#6a6a6a" text-anchor="middle" textLength="28.5" lengthAdjust="spacingAndGlyphs">260</text>
</g>
<text x="1532" y="25.5" font-size="16.5" fill="#2a2a2a" text-anchor="middle" textLength="70" lengthAdjust="spacingAndGlyphs">Elevation</text>
<text x="1532" y="651" font-size="20.5" fill="#111" text-anchor="middle" textLength="85" lengthAdjust="spacingAndGlyphs" stroke="#111" stroke-width="0.7">Elevation</text>
<text x="1073" y="320" font-size="21.3" fill="#111" text-anchor="middle" textLength="236" lengthAdjust="spacingAndGlyphs" transform="rotate(-90 1073 320)" stroke="#111" stroke-width="0.7">Probability of occurrence</text>
<rect x="71" y="765.9" width="584.4" height="477.5" fill="#ebebeb"/>
<line x1="183.7" y1="765.9" x2="183.7" y2="1243.4" stroke="#f3f3f3" stroke-width="1.1"/>
<line x1="353.7" y1="765.9" x2="353.7" y2="1243.4" stroke="#f3f3f3" stroke-width="1.1"/>
<line x1="523.7" y1="765.9" x2="523.7" y2="1243.4" stroke="#f3f3f3" stroke-width="1.1"/>
<line x1="71" y1="1167.9" x2="655.4" y2="1167.9" stroke="#f3f3f3" stroke-width="1.1"/>
<line x1="71" y1="1059.2" x2="655.4" y2="1059.2" stroke="#f3f3f3" stroke-width="1.1"/>
<line x1="71" y1="950.4" x2="655.4" y2="950.4" stroke="#f3f3f3" stroke-width="1.1"/>
<line x1="71" y1="841.7" x2="655.4" y2="841.7" stroke="#f3f3f3" stroke-width="1.1"/>
<line x1="98.7" y1="765.9" x2="98.7" y2="1243.4" stroke="#f6f6f6" stroke-width="1.4"/>
<line x1="98.7" y1="1243.9" x2="98.7" y2="1246.6" stroke="#707070" stroke-width="1.3"/>
<line x1="268.7" y1="765.9" x2="268.7" y2="1243.4" stroke="#f6f6f6" stroke-width="1.4"/>
<line x1="268.7" y1="1243.9" x2="268.7" y2="1246.6" stroke="#707070" stroke-width="1.3"/>
<line x1="438.7" y1="765.9" x2="438.7" y2="1243.4" stroke="#f6f6f6" stroke-width="1.4"/>
<line x1="438.7" y1="1243.9" x2="438.7" y2="1246.6" stroke="#707070" stroke-width="1.3"/>
<line x1="608.7" y1="765.9" x2="608.7" y2="1243.4" stroke="#f6f6f6" stroke-width="1.4"/>
<line x1="608.7" y1="1243.9" x2="608.7" y2="1246.6" stroke="#707070" stroke-width="1.3"/>
<line x1="71" y1="1222.3" x2="655.4" y2="1222.3" stroke="#f6f6f6" stroke-width="1.4"/>
<line x1="67.8" y1="1222.3" x2="70.5" y2="1222.3" stroke="#707070" stroke-width="1.3"/>
<text x="64" y="1227.9" font-size="15.6" fill="#5e5e5e" text-anchor="end" textLength="31" lengthAdjust="spacingAndGlyphs">0.00</text>
<line x1="71" y1="1113.5" x2="655.4" y2="1113.5" stroke="#f6f6f6" stroke-width="1.4"/>
<line x1="67.8" y1="1113.5" x2="70.5" y2="1113.5" stroke="#707070" stroke-width="1.3"/>
<text x="64" y="1119.1" font-size="15.6" fill="#5e5e5e" text-anchor="end" textLength="31" lengthAdjust="spacingAndGlyphs">0.25</text>
<line x1="71" y1="1004.8" x2="655.4" y2="1004.8" stroke="#f6f6f6" stroke-width="1.4"/>
<line x1="67.8" y1="1004.8" x2="70.5" y2="1004.8" stroke="#707070" stroke-width="1.3"/>
<text x="64" y="1010.4" font-size="15.6" fill="#5e5e5e" text-anchor="end" textLength="31" lengthAdjust="spacingAndGlyphs">0.50</text>
<line x1="71" y1="896" x2="655.4" y2="896" stroke="#f6f6f6" stroke-width="1.4"/>
<line x1="67.8" y1="896" x2="70.5" y2="896" stroke="#707070" stroke-width="1.3"/>
<text x="64" y="901.6" font-size="15.6" fill="#5e5e5e" text-anchor="end" textLength="31" lengthAdjust="spacingAndGlyphs">0.75</text>
<line x1="71" y1="787.3" x2="655.4" y2="787.3" stroke="#f6f6f6" stroke-width="1.4"/>
<line x1="67.8" y1="787.3" x2="70.5" y2="787.3" stroke="#707070" stroke-width="1.3"/>
<text x="64" y="792.9" font-size="15.6" fill="#5e5e5e" text-anchor="end" textLength="31" lengthAdjust="spacingAndGlyphs">1.00</text>
<polygon points="97.7,809.4 99.8,812.2 102,815.3 104.1,818.7 106.3,822.5 108.4,826.6 110.5,831.1 112.7,836 114.8,841.2 117,846.8 119.1,852.8 121.3,859.2 123.4,865.9 125.6,872.9 127.7,880.3 129.9,888 132,896 134.1,904.3 136.3,912.9 138.4,921.7 140.6,930.8 142.7,940.2 144.9,949.7 147,959.5 149.2,969.3 151.3,979.3 153.4,989.4 155.6,999.5 157.7,1009.6 159.9,1019.6 162,1029.6 164.2,1039.4 166.3,1049.1 168.5,1058.6 170.6,1067.8 172.7,1076.8 174.9,1085.6 177,1094 179.2,1102.1 181.3,1109.9 183.5,1117.3 185.6,1124.4 187.8,1131.1 189.9,1137.5 192.1,1143.6 194.2,1149.3 196.3,1154.6 198.5,1159.7 200.6,1164.4 202.8,1168.8 204.9,1172.9 207.1,1176.7 209.2,1180.3 211.4,1183.6 213.5,1186.7 215.6,1189.6 217.8,1192.2 219.9,1194.6 222.1,1196.9 224.2,1199 226.4,1200.9 228.5,1202.7 230.7,1204.3 232.8,1205.8 234.9,1207.2 237.1,1208.4 239.2,1209.6 241.4,1210.7 243.5,1211.7 245.7,1212.6 247.8,1213.4 250,1214.1 252.1,1214.8 254.2,1215.5 256.4,1216.1 258.5,1216.6 260.7,1217.1 262.8,1217.5 265,1217.9 267.1,1218.3 269.3,1218.6 271.4,1219 273.6,1219.2 275.7,1219.5 277.8,1219.7 280,1220 282.1,1220.2 284.3,1220.4 286.4,1220.5 288.6,1220.7 290.7,1220.8 292.9,1220.9 295,1221.1 297.1,1221.2 299.3,1221.3 301.4,1221.4 303.6,1221.4 305.7,1221.5 307.9,1221.6 310,1221.6 312.2,1221.7 314.3,1221.7 316.4,1221.8 318.6,1221.8 320.7,1221.9 322.9,1221.9 325,1221.9 327.2,1222 329.3,1222 331.5,1222 333.6,1222.1 335.8,1222.1 337.9,1222.1 340,1222.1 342.2,1222.1 344.3,1222.1 346.5,1222.2 348.6,1222.2 350.8,1222.2 352.9,1222.2 355.1,1222.2 357.2,1222.2 359.3,1222.2 361.5,1222.2 363.6,1222.2 365.8,1222.2 367.9,1222.2 370.1,1222.2 372.2,1222.3 374.4,1222.3 376.5,1222.3 378.6,1222.3 380.8,1222.3 382.9,1222.3 385.1,1222.3 387.2,1222.3 389.4,1222.3 391.5,1222.3 393.7,1222.3 395.8,1222.3 397.9,1222.3 400.1,1222.3 402.2,1222.3 404.4,1222.3 406.5,1222.3 408.7,1222.3 410.8,1222.3 413,1222.3 415.1,1222.3 417.3,1222.3 419.4,1222.3 421.5,1222.3 423.7,1222.3 425.8,1222.3 428,1222.3 430.1,1222.3 432.3,1222.3 434.4,1222.3 436.6,1222.3 438.7,1222.3 438.7,1222.3 436.6,1222.3 434.4,1222.3 432.3,1222.3 430.1,1222.3 428,1222.3 425.8,1222.3 423.7,1222.3 421.5,1222.3 419.4,1222.3 417.3,1222.3 415.1,1222.3 413,1222.3 410.8,1222.3 408.7,1222.3 406.5,1222.3 404.4,1222.3 402.2,1222.3 400.1,1222.3 397.9,1222.3 395.8,1222.3 393.7,1222.3 391.5,1222.3 389.4,1222.3 387.2,1222.3 385.1,1222.3 382.9,1222.3 380.8,1222.3 378.6,1222.3 376.5,1222.3 374.4,1222.3 372.2,1222.3 370.1,1222.3 367.9,1222.3 365.8,1222.3 363.6,1222.3 361.5,1222.3 359.3,1222.3 357.2,1222.3 355.1,1222.3 352.9,1222.3 350.8,1222.3 348.6,1222.3 346.5,1222.3 344.3,1222.3 342.2,1222.3 340,1222.3 337.9,1222.3 335.8,1222.3 333.6,1222.3 331.5,1222.3 329.3,1222.3 327.2,1222.3 325,1222.3 322.9,1222.3 320.7,1222.3 318.6,1222.3 316.4,1222.3 314.3,1222.3 312.2,1222.3 310,1222.3 307.9,1222.3 305.7,1222.3 303.6,1222.3 301.4,1222.3 299.3,1222.3 297.1,1222.3 295,1222.3 292.9,1222.3 290.7,1222.2 288.6,1222.2 286.4,1222.2 284.3,1222.2 282.1,1222.2 280,1222.2 277.8,1222.2 275.7,1222.2 273.6,1222.2 271.4,1222.1 269.3,1222.1 267.1,1222.1 265,1222 262.8,1222 260.7,1222 258.5,1221.9 256.4,1221.9 254.2,1221.8 252.1,1221.7 250,1221.7 247.8,1221.6 245.7,1221.5 243.5,1221.4 241.4,1221.2 239.2,1221.1 237.1,1220.9 234.9,1220.7 232.8,1220.5 230.7,1220.2 228.5,1219.9 226.4,1219.6 224.2,1219.2 222.1,1218.8 219.9,1218.3 217.8,1217.8 215.6,1217.2 213.5,1216.4 211.4,1215.6 209.2,1214.7 207.1,1213.7 204.9,1212.5 202.8,1211.1 200.6,1209.6 198.5,1207.9 196.3,1206 194.2,1203.8 192.1,1201.3 189.9,1198.5 187.8,1195.4 185.6,1191.9 183.5,1188 181.3,1183.6 179.2,1178.7 177,1173.3 174.9,1167.4 172.7,1160.8 170.6,1153.6 168.5,1145.7 166.3,1137.1 164.2,1127.9 162,1117.9 159.9,1107.3 157.7,1096 155.6,1084.1 153.4,1071.7 151.3,1058.8 149.2,1045.5 147,1031.9 144.9,1018.2 142.7,1004.4 140.6,990.6 138.4,977.1 136.3,963.9 134.1,951 132,938.7 129.9,927 127.7,915.9 125.6,905.4 123.4,895.7 121.3,886.6 119.1,878.3 117,870.7 114.8,863.6 112.7,857.2 110.5,851.3 108.4,845.9 106.3,841 104.1,836.5 102,832.4 99.8,828.6 97.7,825.1" fill="#cdcdcd"/>
<g fill="#000" fill-opacity="0.7">
<circle cx="96.1" cy="787.3" r="1.7"/>
<circle cx="96.8" cy="787.3" r="1.7"/>
<circle cx="97.7" cy="787.3" r="1.7"/>
<circle cx="98.1" cy="787.3" r="1.7"/>
<circle cx="99" cy="787.3" r="1.7"/>
<circle cx="99.7" cy="787.3" r="1.7"/>
<circle cx="100.2" cy="787.3" r="1.7"/>
<circle cx="101.1" cy="787.3" r="1.7"/>
<circle cx="101.6" cy="787.3" r="1.7"/>
<circle cx="102.5" cy="787.3" r="1.7"/>
<circle cx="103" cy="787.3" r="1.7"/>
<circle cx="103.8" cy="787.3" r="1.7"/>
<circle cx="104.6" cy="787.3" r="1.7"/>
<circle cx="105.5" cy="787.3" r="1.7"/>
<circle cx="105.9" cy="787.3" r="1.7"/>
<circle cx="106.6" cy="787.3" r="1.7"/>
<circle cx="107.5" cy="787.3" r="1.7"/>
<circle cx="108.3" cy="787.3" r="1.7"/>
<circle cx="108.9" cy="787.3" r="1.7"/>
<circle cx="109.5" cy="787.3" r="1.7"/>
<circle cx="110.4" cy="787.3" r="1.7"/>
<circle cx="110.8" cy="787.3" r="1.7"/>
<circle cx="111.8" cy="787.3" r="1.7"/>
<circle cx="112.3" cy="787.3" r="1.7"/>
<circle cx="112.9" cy="787.3" r="1.7"/>
<circle cx="113.6" cy="787.3" r="1.7"/>
<circle cx="114.4" cy="787.3" r="1.7"/>
<circle cx="115.3" cy="787.3" r="1.7"/>
<circle cx="115.7" cy="787.3" r="1.7"/>
<circle cx="116.6" cy="787.3" r="1.7"/>
<circle cx="117.3" cy="787.3" r="1.7"/>
<circle cx="117.9" cy="787.3" r="1.7"/>
<circle cx="118.7" cy="787.3" r="1.7"/>
<circle cx="119.2" cy="787.3" r="1.7"/>
<circle cx="119.9" cy="787.3" r="1.7"/>
<circle cx="120.6" cy="787.3" r="1.7"/>
<circle cx="121.5" cy="787.3" r="1.7"/>
<circle cx="122.1" cy="787.3" r="1.7"/>
<circle cx="122.8" cy="787.3" r="1.7"/>
<circle cx="123.6" cy="787.3" r="1.7"/>
<circle cx="124.3" cy="787.3" r="1.7"/>
<circle cx="124.9" cy="787.3" r="1.7"/>
<circle cx="125.8" cy="787.3" r="1.7"/>
<circle cx="126.5" cy="787.3" r="1.7"/>
<circle cx="127" cy="787.3" r="1.7"/>
<circle cx="127.8" cy="787.3" r="1.7"/>
<circle cx="128.5" cy="787.3" r="1.7"/>
<circle cx="129.4" cy="787.3" r="1.7"/>
<circle cx="130" cy="787.3" r="1.7"/>
<circle cx="130.5" cy="787.3" r="1.7"/>
<circle cx="131.5" cy="787.3" r="1.7"/>
<circle cx="131.8" cy="787.3" r="1.7"/>
<circle cx="132.7" cy="787.3" r="1.7"/>
<circle cx="133.5" cy="787.3" r="1.7"/>
<circle cx="134" cy="787.3" r="1.7"/>
<circle cx="134.8" cy="787.3" r="1.7"/>
<circle cx="135.3" cy="787.3" r="1.7"/>
<circle cx="136.8" cy="787.3" r="1.7"/>
<circle cx="138.9" cy="787.3" r="1.7"/>
<circle cx="140.7" cy="787.3" r="1.7"/>
<circle cx="143.1" cy="787.3" r="1.7"/>
<circle cx="144.4" cy="787.3" r="1.7"/>
</g>
<g fill="#000" fill-opacity="0.65">
<circle cx="152.5" cy="787.3" r="1.5"/>
<circle cx="156" cy="787.3" r="1.5"/>
<circle cx="159.5" cy="787.3" r="1.5"/>
<circle cx="164" cy="787.3" r="1.5"/>
<circle cx="172" cy="787.3" r="1.5"/>
</g>
<g fill="#000" fill-opacity="0.7">
<circle cx="96.3" cy="1222.3" r="1.8"/>
<circle cx="97.1" cy="1222.3" r="1.8"/>
<circle cx="98" cy="1222.3" r="1.8"/>
<circle cx="98.7" cy="1222.3" r="1.8"/>
<circle cx="99.8" cy="1222.3" r="1.8"/>
<circle cx="100.6" cy="1222.3" r="1.8"/>
<circle cx="101.2" cy="1222.3" r="1.8"/>
<circle cx="102.2" cy="1222.3" r="1.8"/>
<circle cx="102.7" cy="1222.3" r="1.8"/>
<circle cx="103.9" cy="1222.3" r="1.8"/>
<circle cx="104.7" cy="1222.3" r="1.8"/>
<circle cx="105.7" cy="1222.3" r="1.8"/>
<circle cx="106.4" cy="1222.3" r="1.8"/>
<circle cx="107" cy="1222.3" r="1.8"/>
<circle cx="107.9" cy="1222.3" r="1.8"/>
<circle cx="108.8" cy="1222.3" r="1.8"/>
<circle cx="109.3" cy="1222.3" r="1.8"/>
<circle cx="110.4" cy="1222.3" r="1.8"/>
<circle cx="115" cy="1222.3" r="1.8"/>
<circle cx="116.5" cy="1222.3" r="1.8"/>
<circle cx="122.1" cy="1222.3" r="1.8"/>
<circle cx="123" cy="1222.3" r="1.8"/>
<circle cx="123.8" cy="1222.3" r="1.8"/>
<circle cx="125.1" cy="1222.3" r="1.8"/>
<circle cx="125.7" cy="1222.3" r="1.8"/>
<circle cx="126.6" cy="1222.3" r="1.8"/>
<circle cx="127.6" cy="1222.3" r="1.8"/>
<circle cx="128.8" cy="1222.3" r="1.8"/>
<circle cx="129.2" cy="1222.3" r="1.8"/>
<circle cx="130.3" cy="1222.3" r="1.8"/>
<circle cx="134.3" cy="1222.3" r="1.8"/>
<circle cx="135.5" cy="1222.3" r="1.8"/>
<circle cx="136.5" cy="1222.3" r="1.8"/>
<circle cx="137.5" cy="1222.3" r="1.8"/>
<circle cx="138.2" cy="1222.3" r="1.8"/>
<circle cx="139.2" cy="1222.3" r="1.8"/>
<circle cx="140.2" cy="1222.3" r="1.8"/>
<circle cx="141.5" cy="1222.3" r="1.8"/>
<circle cx="142.6" cy="1222.3" r="1.8"/>
<circle cx="150.1" cy="1222.3" r="1.8"/>
<circle cx="151" cy="1222.3" r="1.8"/>
<circle cx="152" cy="1222.3" r="1.8"/>
<circle cx="153" cy="1222.3" r="1.8"/>
<circle cx="154" cy="1222.3" r="1.8"/>
<circle cx="155" cy="1222.3" r="1.8"/>
<circle cx="155.8" cy="1222.3" r="1.8"/>
<circle cx="156.6" cy="1222.3" r="1.8"/>
<circle cx="157.8" cy="1222.3" r="1.8"/>
<circle cx="158.7" cy="1222.3" r="1.8"/>
<circle cx="159.7" cy="1222.3" r="1.8"/>
<circle cx="160.9" cy="1222.3" r="1.8"/>
<circle cx="161.7" cy="1222.3" r="1.8"/>
<circle cx="162.5" cy="1222.3" r="1.8"/>
<circle cx="163.5" cy="1222.3" r="1.8"/>
<circle cx="164.5" cy="1222.3" r="1.8"/>
<circle cx="165.1" cy="1222.3" r="1.8"/>
<circle cx="172" cy="1222.3" r="1.8"/>
<circle cx="172.9" cy="1222.3" r="1.8"/>
<circle cx="173.9" cy="1222.3" r="1.8"/>
<circle cx="174.8" cy="1222.3" r="1.8"/>
<circle cx="175.6" cy="1222.3" r="1.8"/>
<circle cx="176.5" cy="1222.3" r="1.8"/>
<circle cx="177.3" cy="1222.3" r="1.8"/>
<circle cx="178.6" cy="1222.3" r="1.8"/>
<circle cx="179.2" cy="1222.3" r="1.8"/>
<circle cx="180.2" cy="1222.3" r="1.8"/>
<circle cx="181.2" cy="1222.3" r="1.8"/>
<circle cx="182.1" cy="1222.3" r="1.8"/>
<circle cx="189.2" cy="1222.3" r="1.8"/>
<circle cx="190" cy="1222.3" r="1.8"/>
<circle cx="190.9" cy="1222.3" r="1.8"/>
<circle cx="191.9" cy="1222.3" r="1.8"/>
<circle cx="192.8" cy="1222.3" r="1.8"/>
<circle cx="193.9" cy="1222.3" r="1.8"/>
<circle cx="194.6" cy="1222.3" r="1.8"/>
<circle cx="196.1" cy="1222.3" r="1.8"/>
<circle cx="196.9" cy="1222.3" r="1.8"/>
<circle cx="197.5" cy="1222.3" r="1.8"/>
<circle cx="198.5" cy="1222.3" r="1.8"/>
<circle cx="199.5" cy="1222.3" r="1.8"/>
<circle cx="200.5" cy="1222.3" r="1.8"/>
<circle cx="201.3" cy="1222.3" r="1.8"/>
<circle cx="202.6" cy="1222.3" r="1.8"/>
<circle cx="203.6" cy="1222.3" r="1.8"/>
<circle cx="204.3" cy="1222.3" r="1.8"/>
<circle cx="205.2" cy="1222.3" r="1.8"/>
<circle cx="206" cy="1222.3" r="1.8"/>
<circle cx="206.9" cy="1222.3" r="1.8"/>
<circle cx="208" cy="1222.3" r="1.8"/>
<circle cx="208.9" cy="1222.3" r="1.8"/>
<circle cx="210.1" cy="1222.3" r="1.8"/>
<circle cx="214.1" cy="1222.3" r="1.8"/>
<circle cx="214.9" cy="1222.3" r="1.8"/>
<circle cx="216.4" cy="1222.3" r="1.8"/>
<circle cx="217.1" cy="1222.3" r="1.8"/>
<circle cx="217.8" cy="1222.3" r="1.8"/>
<circle cx="218.9" cy="1222.3" r="1.8"/>
<circle cx="219.6" cy="1222.3" r="1.8"/>
<circle cx="220.8" cy="1222.3" r="1.8"/>
<circle cx="222" cy="1222.3" r="1.8"/>
<circle cx="222.8" cy="1222.3" r="1.8"/>
<circle cx="223.6" cy="1222.3" r="1.8"/>
<circle cx="224.3" cy="1222.3" r="1.8"/>
<circle cx="225.3" cy="1222.3" r="1.8"/>
<circle cx="226.1" cy="1222.3" r="1.8"/>
<circle cx="227.4" cy="1222.3" r="1.8"/>
<circle cx="228.2" cy="1222.3" r="1.8"/>
<circle cx="229.2" cy="1222.3" r="1.8"/>
<circle cx="229.9" cy="1222.3" r="1.8"/>
<circle cx="230.8" cy="1222.3" r="1.8"/>
<circle cx="232" cy="1222.3" r="1.8"/>
<circle cx="233.1" cy="1222.3" r="1.8"/>
<circle cx="233.9" cy="1222.3" r="1.8"/>
<circle cx="234.8" cy="1222.3" r="1.8"/>
<circle cx="235.8" cy="1222.3" r="1.8"/>
<circle cx="236.6" cy="1222.3" r="1.8"/>
<circle cx="237.3" cy="1222.3" r="1.8"/>
<circle cx="238.4" cy="1222.3" r="1.8"/>
</g>
<g fill="#000" fill-opacity="0.5">
<circle cx="239.5" cy="1222.3" r="1.5"/>
<circle cx="240.8" cy="1222.3" r="1.5"/>
<circle cx="242.5" cy="1222.3" r="1.5"/>
<circle cx="244.6" cy="1222.3" r="1.5"/>
<circle cx="246.2" cy="1222.3" r="1.5"/>
<circle cx="248.6" cy="1222.3" r="1.5"/>
<circle cx="250.7" cy="1222.3" r="1.5"/>
<circle cx="251.7" cy="1222.3" r="1.5"/>
<circle cx="254.1" cy="1222.3" r="1.5"/>
<circle cx="255.9" cy="1222.3" r="1.5"/>
<circle cx="257.6" cy="1222.3" r="1.5"/>
<circle cx="258.4" cy="1222.3" r="1.5"/>
<circle cx="259.9" cy="1222.3" r="1.5"/>
<circle cx="261.6" cy="1222.3" r="1.5"/>
<circle cx="263.3" cy="1222.3" r="1.5"/>
<circle cx="265" cy="1222.3" r="1.5"/>
<circle cx="267.4" cy="1222.3" r="1.5"/>
<circle cx="269.5" cy="1222.3" r="1.5"/>
<circle cx="271.1" cy="1222.3" r="1.5"/>
<circle cx="272.3" cy="1222.3" r="1.5"/>
<circle cx="274.2" cy="1222.3" r="1.5"/>
<circle cx="276.2" cy="1222.3" r="1.5"/>
<circle cx="276.8" cy="1222.3" r="1.5"/>
<circle cx="279.4" cy="1222.3" r="1.5"/>
<circle cx="281.5" cy="1222.3" r="1.5"/>
<circle cx="283" cy="1222.3" r="1.5"/>
<circle cx="284.7" cy="1222.3" r="1.5"/>
<circle cx="286" cy="1222.3" r="1.5"/>
<circle cx="287.2" cy="1222.3" r="1.5"/>
<circle cx="289.9" cy="1222.3" r="1.5"/>
<circle cx="290.9" cy="1222.3" r="1.5"/>
<circle cx="293.3" cy="1222.3" r="1.5"/>
<circle cx="295.3" cy="1222.3" r="1.5"/>
<circle cx="296.1" cy="1222.3" r="1.5"/>
<circle cx="297.8" cy="1222.3" r="1.5"/>
<circle cx="300.4" cy="1222.3" r="1.5"/>
<circle cx="301.7" cy="1222.3" r="1.5"/>
<circle cx="302.6" cy="1222.3" r="1.5"/>
<circle cx="304.2" cy="1222.3" r="1.5"/>
<circle cx="306" cy="1222.3" r="1.5"/>
<circle cx="308.9" cy="1222.3" r="1.5"/>
<circle cx="310.4" cy="1222.3" r="1.5"/>
<circle cx="311.1" cy="1222.3" r="1.5"/>
<circle cx="313.9" cy="1222.3" r="1.5"/>
<circle cx="315.8" cy="1222.3" r="1.5"/>
<circle cx="317" cy="1222.3" r="1.5"/>
<circle cx="318.3" cy="1222.3" r="1.5"/>
<circle cx="320.3" cy="1222.3" r="1.5"/>
<circle cx="321.4" cy="1222.3" r="1.5"/>
<circle cx="322.9" cy="1222.3" r="1.5"/>
<circle cx="326.1" cy="1222.3" r="1.5"/>
<circle cx="327.3" cy="1222.3" r="1.5"/>
<circle cx="328.8" cy="1222.3" r="1.5"/>
<circle cx="331.2" cy="1222.3" r="1.5"/>
<circle cx="332.1" cy="1222.3" r="1.5"/>
<circle cx="334.5" cy="1222.3" r="1.5"/>
<circle cx="336.1" cy="1222.3" r="1.5"/>
<circle cx="336.9" cy="1222.3" r="1.5"/>
<circle cx="338.7" cy="1222.3" r="1.5"/>
<circle cx="340.5" cy="1222.3" r="1.5"/>
<circle cx="342.1" cy="1222.3" r="1.5"/>
<circle cx="344.3" cy="1222.3" r="1.5"/>
<circle cx="345.5" cy="1222.3" r="1.5"/>
<circle cx="347.5" cy="1222.3" r="1.5"/>
<circle cx="348.8" cy="1222.3" r="1.5"/>
<circle cx="351.7" cy="1222.3" r="1.5"/>
<circle cx="352.5" cy="1222.3" r="1.5"/>
<circle cx="354.4" cy="1222.3" r="1.5"/>
<circle cx="356.3" cy="1222.3" r="1.5"/>
<circle cx="358.5" cy="1222.3" r="1.5"/>
<circle cx="359.5" cy="1222.3" r="1.5"/>
<circle cx="362" cy="1222.3" r="1.5"/>
<circle cx="363" cy="1222.3" r="1.5"/>
<circle cx="364.8" cy="1222.3" r="1.5"/>
<circle cx="366.5" cy="1222.3" r="1.5"/>
<circle cx="367.4" cy="1222.3" r="1.5"/>
<circle cx="369.8" cy="1222.3" r="1.5"/>
<circle cx="371.1" cy="1222.3" r="1.5"/>
<circle cx="372.5" cy="1222.3" r="1.5"/>
<circle cx="375.5" cy="1222.3" r="1.5"/>
<circle cx="376.2" cy="1222.3" r="1.5"/>
<circle cx="378.4" cy="1222.3" r="1.5"/>
<circle cx="380.5" cy="1222.3" r="1.5"/>
<circle cx="381.9" cy="1222.3" r="1.5"/>
<circle cx="383.3" cy="1222.3" r="1.5"/>
<circle cx="385.3" cy="1222.3" r="1.5"/>
<circle cx="387.1" cy="1222.3" r="1.5"/>
<circle cx="389.1" cy="1222.3" r="1.5"/>
<circle cx="389.8" cy="1222.3" r="1.5"/>
<circle cx="392.2" cy="1222.3" r="1.5"/>
<circle cx="393.5" cy="1222.3" r="1.5"/>
<circle cx="395.2" cy="1222.3" r="1.5"/>
<circle cx="397.7" cy="1222.3" r="1.5"/>
<circle cx="399" cy="1222.3" r="1.5"/>
<circle cx="400.8" cy="1222.3" r="1.5"/>
<circle cx="402.8" cy="1222.3" r="1.5"/>
<circle cx="404.7" cy="1222.3" r="1.5"/>
<circle cx="405.7" cy="1222.3" r="1.5"/>
<circle cx="407.7" cy="1222.3" r="1.5"/>
<circle cx="409.3" cy="1222.3" r="1.5"/>
<circle cx="411" cy="1222.3" r="1.5"/>
<circle cx="413" cy="1222.3" r="1.5"/>
<circle cx="414.3" cy="1222.3" r="1.5"/>
<circle cx="416.1" cy="1222.3" r="1.5"/>
<circle cx="417.8" cy="1222.3" r="1.5"/>
<circle cx="420.2" cy="1222.3" r="1.5"/>
<circle cx="421.5" cy="1222.3" r="1.5"/>
<circle cx="423.5" cy="1222.3" r="1.5"/>
<circle cx="425.3" cy="1222.3" r="1.5"/>
<circle cx="426" cy="1222.3" r="1.5"/>
<circle cx="428.2" cy="1222.3" r="1.5"/>
<circle cx="430.5" cy="1222.3" r="1.5"/>
<circle cx="432" cy="1222.3" r="1.5"/>
<circle cx="432.7" cy="1222.3" r="1.5"/>
<circle cx="434.3" cy="1222.3" r="1.5"/>
<circle cx="436.5" cy="1222.3" r="1.5"/>
<circle cx="437.7" cy="1222.3" r="1.5"/>
<circle cx="439.7" cy="1222.3" r="1.5"/>
</g>
<g fill="#000" fill-opacity="0.6">
<circle cx="451.1" cy="1222.3" r="1.5"/>
<circle cx="453" cy="1222.3" r="1.5"/>
<circle cx="454.5" cy="1222.3" r="1.5"/>
<circle cx="456.1" cy="1222.3" r="1.5"/>
<circle cx="456.8" cy="1222.3" r="1.5"/>
<circle cx="458.8" cy="1222.3" r="1.5"/>
<circle cx="460.1" cy="1222.3" r="1.5"/>
</g>
<g fill="#000" fill-opacity="0.55">
<circle cx="465" cy="1222.3" r="1.5"/>
<circle cx="473.5" cy="1222.3" r="1.5"/>
<circle cx="481" cy="1222.3" r="1.5"/>
<circle cx="485" cy="1222.3" r="1.5"/>
<circle cx="489" cy="1222.3" r="1.5"/>
<circle cx="493" cy="1222.3" r="1.5"/>
<circle cx="497" cy="1222.3" r="1.5"/>
<circle cx="502" cy="1222.3" r="1.5"/>
<circle cx="506" cy="1222.3" r="1.5"/>
<circle cx="515" cy="1222.3" r="1.5"/>
<circle cx="524" cy="1222.3" r="1.5"/>
<circle cx="527" cy="1222.3" r="1.5"/>
<circle cx="537" cy="1222.3" r="1.5"/>
<circle cx="541" cy="1222.3" r="1.5"/>
<circle cx="554" cy="1222.3" r="1.5"/>
<circle cx="558" cy="1222.3" r="1.5"/>
<circle cx="568" cy="1222.3" r="1.5"/>
<circle cx="574" cy="1222.3" r="1.5"/>
<circle cx="580" cy="1222.3" r="1.5"/>
<circle cx="584" cy="1222.3" r="1.5"/>
<circle cx="588" cy="1222.3" r="1.5"/>
<circle cx="592" cy="1222.3" r="1.5"/>
<circle cx="596" cy="1222.3" r="1.5"/>
<circle cx="602" cy="1222.3" r="1.5"/>
<circle cx="604" cy="1222.3" r="1.5"/>
<circle cx="629.8" cy="1222.3" r="1.5"/>
</g>
<polyline points="97.7,816.3 99.8,819.4 102,822.9 104.1,826.7 106.3,830.9 108.4,835.4 110.5,840.4 112.7,845.8 114.8,851.6 117,857.9 119.1,864.8 121.3,872.1 123.4,879.9 125.6,888.3 127.7,897.1 129.9,906.5 132,916.3 134.1,926.6 136.3,937.3 138.4,948.4 140.6,959.9 142.7,971.5 144.9,983.4 147,995.4 149.2,1007.5 151.3,1019.5 153.4,1031.5 155.6,1043.3 157.7,1054.9 159.9,1066.2 162,1077.1 164.2,1087.6 166.3,1097.7 168.5,1107.4 170.6,1116.5 172.7,1125.1 174.9,1133.2 177,1140.9 179.2,1147.9 181.3,1154.5 183.5,1160.7 185.6,1166.3 187.8,1171.5 189.9,1176.3 192.1,1180.6 194.2,1184.6 196.3,1188.3 198.5,1191.6 200.6,1194.6 202.8,1197.4 204.9,1199.9 207.1,1202.1 209.2,1204.1 211.4,1206 213.5,1207.6 215.6,1209.1 217.8,1210.5 219.9,1211.7 222.1,1212.8 224.2,1213.8 226.4,1214.6 228.5,1215.4 230.7,1216.1 232.8,1216.8 234.9,1217.4 237.1,1217.9 239.2,1218.3 241.4,1218.7 243.5,1219.1 245.7,1219.4 247.8,1219.7 250,1220 252.1,1220.3 254.2,1220.5 256.4,1220.7 258.5,1220.8 260.7,1221 262.8,1221.1 265,1221.2 267.1,1221.4 269.3,1221.5 271.4,1221.5 273.6,1221.6 275.7,1221.7 277.8,1221.8 280,1221.8 282.1,1221.9 284.3,1221.9 286.4,1222 288.6,1222 290.7,1222 292.9,1222.1 295,1222.1 297.1,1222.1 299.3,1222.1 301.4,1222.1 303.6,1222.2 305.7,1222.2 307.9,1222.2 310,1222.2 312.2,1222.2 314.3,1222.2 316.4,1222.2 318.6,1222.2 320.7,1222.2 322.9,1222.2 325,1222.3 327.2,1222.3 329.3,1222.3 331.5,1222.3 333.6,1222.3 335.8,1222.3 337.9,1222.3 340,1222.3 342.2,1222.3 344.3,1222.3 346.5,1222.3 348.6,1222.3 350.8,1222.3 352.9,1222.3 355.1,1222.3 357.2,1222.3 359.3,1222.3 361.5,1222.3 363.6,1222.3 365.8,1222.3 367.9,1222.3 370.1,1222.3 372.2,1222.3 374.4,1222.3 376.5,1222.3 378.6,1222.3 380.8,1222.3 382.9,1222.3 385.1,1222.3 387.2,1222.3 389.4,1222.3 391.5,1222.3 393.7,1222.3 395.8,1222.3 397.9,1222.3 400.1,1222.3 402.2,1222.3 404.4,1222.3 406.5,1222.3 408.7,1222.3 410.8,1222.3 413,1222.3 415.1,1222.3 417.3,1222.3 419.4,1222.3 421.5,1222.3 423.7,1222.3 425.8,1222.3 428,1222.3 430.1,1222.3 432.3,1222.3 434.4,1222.3 436.6,1222.3 438.7,1222.3" fill="none" stroke="#34349a" stroke-width="1.8" stroke-linejoin="round"/>
<g fill="#000" fill-opacity="0.6">
<circle cx="250.2" cy="1222.3" r="1.7"/>
<circle cx="257.1" cy="1222.3" r="1.7"/>
<circle cx="262.9" cy="1222.3" r="1.7"/>
<circle cx="267.2" cy="1222.3" r="1.7"/>
<circle cx="274.1" cy="1222.3" r="1.7"/>
<circle cx="278.8" cy="1222.3" r="1.7"/>
<circle cx="284.5" cy="1222.3" r="1.7"/>
<circle cx="291" cy="1222.3" r="1.7"/>
<circle cx="296.3" cy="1222.3" r="1.7"/>
<circle cx="300.8" cy="1222.3" r="1.7"/>
<circle cx="306.9" cy="1222.3" r="1.7"/>
<circle cx="312.7" cy="1222.3" r="1.7"/>
<circle cx="318" cy="1222.3" r="1.7"/>
<circle cx="323.4" cy="1222.3" r="1.7"/>
<circle cx="329.2" cy="1222.3" r="1.7"/>
<circle cx="335.5" cy="1222.3" r="1.7"/>
<circle cx="339.9" cy="1222.3" r="1.7"/>
<circle cx="346.4" cy="1222.3" r="1.7"/>
<circle cx="351.9" cy="1222.3" r="1.7"/>
<circle cx="356.8" cy="1222.3" r="1.7"/>
<circle cx="362.9" cy="1222.3" r="1.7"/>
<circle cx="369" cy="1222.3" r="1.7"/>
<circle cx="374.5" cy="1222.3" r="1.7"/>
<circle cx="379.3" cy="1222.3" r="1.7"/>
<circle cx="386.5" cy="1222.3" r="1.7"/>
<circle cx="391.8" cy="1222.3" r="1.7"/>
<circle cx="397.7" cy="1222.3" r="1.7"/>
<circle cx="401.9" cy="1222.3" r="1.7"/>
<circle cx="407.7" cy="1222.3" r="1.7"/>
<circle cx="413" cy="1222.3" r="1.7"/>
<circle cx="419.8" cy="1222.3" r="1.7"/>
<circle cx="424.6" cy="1222.3" r="1.7"/>
<circle cx="430" cy="1222.3" r="1.7"/>
<circle cx="436.1" cy="1222.3" r="1.7"/>
</g>
<text x="98.7" y="1264.5" font-size="15.6" fill="#5e5e5e" text-anchor="middle" textLength="22" lengthAdjust="spacingAndGlyphs">0.0</text>
<text x="268.7" y="1264.5" font-size="15.6" fill="#5e5e5e" text-anchor="middle" textLength="22" lengthAdjust="spacingAndGlyphs">0.1</text>
<text x="438.7" y="1264.5" font-size="15.6" fill="#5e5e5e" text-anchor="middle" textLength="22" lengthAdjust="spacingAndGlyphs">0.2</text>
<text x="608.7" y="1264.5" font-size="15.6" fill="#5e5e5e" text-anchor="middle" textLength="22" lengthAdjust="spacingAndGlyphs">0.3</text>
<text x="363.5" y="1286.5" font-size="20.6" fill="#2e2e2e" text-anchor="middle" textLength="161" lengthAdjust="spacingAndGlyphs" stroke="#2e2e2e" stroke-width="0.3">Distance to water</text>
<text x="24.5" y="1004" font-size="21" fill="#2e2e2e" text-anchor="middle" textLength="232" lengthAdjust="spacingAndGlyphs" transform="rotate(-90 24.5 1004)" stroke="#2e2e2e" stroke-width="0.3">Probability of occurrence</text>
<rect x="731" y="767" width="581.4" height="474.8" fill="#ebebeb"/>
<line x1="779" y1="767" x2="779" y2="1241.8" stroke="#f3f3f3" stroke-width="1.1"/>
<line x1="891" y1="767" x2="891" y2="1241.8" stroke="#f3f3f3" stroke-width="1.1"/>
<line x1="1003" y1="767" x2="1003" y2="1241.8" stroke="#f3f3f3" stroke-width="1.1"/>
<line x1="1115" y1="767" x2="1115" y2="1241.8" stroke="#f3f3f3" stroke-width="1.1"/>
<line x1="1227" y1="767" x2="1227" y2="1241.8" stroke="#f3f3f3" stroke-width="1.1"/>
<line x1="731" y1="1166.7" x2="1312.4" y2="1166.7" stroke="#f3f3f3" stroke-width="1.1"/>
<line x1="731" y1="1058.6" x2="1312.4" y2="1058.6" stroke="#f3f3f3" stroke-width="1.1"/>
<line x1="731" y1="950.5" x2="1312.4" y2="950.5" stroke="#f3f3f3" stroke-width="1.1"/>
<line x1="731" y1="842.4" x2="1312.4" y2="842.4" stroke="#f3f3f3" stroke-width="1.1"/>
<line x1="835" y1="767" x2="835" y2="1241.8" stroke="#f6f6f6" stroke-width="1.4"/>
<line x1="835" y1="1242.3" x2="835" y2="1245" stroke="#707070" stroke-width="1.3"/>
<line x1="947" y1="767" x2="947" y2="1241.8" stroke="#f6f6f6" stroke-width="1.4"/>
<line x1="947" y1="1242.3" x2="947" y2="1245" stroke="#707070" stroke-width="1.3"/>
<line x1="1059" y1="767" x2="1059" y2="1241.8" stroke="#f6f6f6" stroke-width="1.4"/>
<line x1="1059" y1="1242.3" x2="1059" y2="1245" stroke="#707070" stroke-width="1.3"/>
<line x1="1171" y1="767" x2="1171" y2="1241.8" stroke="#f6f6f6" stroke-width="1.4"/>
<line x1="1171" y1="1242.3" x2="1171" y2="1245" stroke="#707070" stroke-width="1.3"/>
<line x1="1283" y1="767" x2="1283" y2="1241.8" stroke="#f6f6f6" stroke-width="1.4"/>
<line x1="1283" y1="1242.3" x2="1283" y2="1245" stroke="#707070" stroke-width="1.3"/>
<line x1="731" y1="1220.7" x2="1312.4" y2="1220.7" stroke="#f6f6f6" stroke-width="1.4"/>
<line x1="727.8" y1="1220.7" x2="730.5" y2="1220.7" stroke="#707070" stroke-width="1.3"/>
<text x="724" y="1226.3" font-size="15.6" fill="#5e5e5e" text-anchor="end" textLength="31" lengthAdjust="spacingAndGlyphs">0.00</text>
<line x1="731" y1="1112.6" x2="1312.4" y2="1112.6" stroke="#f6f6f6" stroke-width="1.4"/>
<line x1="727.8" y1="1112.6" x2="730.5" y2="1112.6" stroke="#707070" stroke-width="1.3"/>
<text x="724" y="1118.2" font-size="15.6" fill="#5e5e5e" text-anchor="end" textLength="31" lengthAdjust="spacingAndGlyphs">0.25</text>
<line x1="731" y1="1004.6" x2="1312.4" y2="1004.6" stroke="#f6f6f6" stroke-width="1.4"/>
<line x1="727.8" y1="1004.6" x2="730.5" y2="1004.6" stroke="#707070" stroke-width="1.3"/>
<text x="724" y="1010.2" font-size="15.6" fill="#5e5e5e" text-anchor="end" textLength="31" lengthAdjust="spacingAndGlyphs">0.50</text>
<line x1="731" y1="896.5" x2="1312.4" y2="896.5" stroke="#f6f6f6" stroke-width="1.4"/>
<line x1="727.8" y1="896.5" x2="730.5" y2="896.5" stroke="#707070" stroke-width="1.3"/>
<text x="724" y="902.1" font-size="15.6" fill="#5e5e5e" text-anchor="end" textLength="31" lengthAdjust="spacingAndGlyphs">0.75</text>
<line x1="731" y1="788.4" x2="1312.4" y2="788.4" stroke="#f6f6f6" stroke-width="1.4"/>
<line x1="727.8" y1="788.4" x2="730.5" y2="788.4" stroke="#707070" stroke-width="1.3"/>
<text x="724" y="794" font-size="15.6" fill="#5e5e5e" text-anchor="end" textLength="31" lengthAdjust="spacingAndGlyphs">1.00</text>
<polygon points="757.5,1218.6 760.8,1218.5 764.1,1218.3 767.5,1218.1 770.8,1217.9 774.1,1217.7 777.4,1217.5 780.7,1217.2 784,1217 787.4,1216.7 790.7,1216.4 794,1216 797.3,1215.7 800.6,1215.3 804,1214.9 807.3,1214.4 810.6,1213.9 813.9,1213.4 817.2,1212.9 820.6,1212.3 823.9,1211.6 827.2,1210.9 830.5,1210.2 833.8,1209.4 837.2,1208.5 840.5,1207.6 843.8,1206.6 847.1,1205.5 850.4,1204.4 853.8,1203.2 857.1,1201.9 860.4,1200.5 863.7,1198.9 867,1197.3 870.3,1195.6 873.7,1193.8 877,1191.8 880.3,1189.7 883.6,1187.5 886.9,1185.1 890.3,1182.5 893.6,1179.8 896.9,1176.9 900.2,1173.9 903.5,1170.6 906.9,1167.2 910.2,1163.5 913.5,1159.6 916.8,1155.6 920.1,1151.3 923.5,1146.7 926.8,1141.9 930.1,1136.9 933.4,1131.7 936.7,1126.2 940,1120.5 943.4,1114.5 946.7,1108.2 950,1101.8 953.3,1095.1 956.6,1088.2 960,1081 963.3,1073.7 966.6,1066.2 969.9,1058.5 973.2,1050.6 976.6,1042.6 979.9,1034.4 983.2,1026.2 986.5,1017.9 989.8,1009.5 993.2,1001.1 996.5,992.7 999.8,984.3 1003.1,975.9 1006.4,967.6 1009.8,959.4 1013.1,951.3 1016.4,943.3 1019.7,935.4 1023,927.8 1026.3,920.3 1029.7,913 1033,905.9 1036.3,899.1 1039.6,892.5 1042.9,886.1 1046.3,880 1049.6,874.2 1052.9,868.6 1056.2,863.3 1059.5,858.2 1062.9,853.4 1066.2,848.8 1069.5,844.5 1072.8,840.5 1076.1,836.7 1079.5,833.1 1082.8,829.8 1086.1,826.6 1089.4,823.7 1092.7,821 1096,818.4 1099.4,816.1 1102.7,813.9 1106,811.8 1109.3,810 1112.6,808.2 1116,806.6 1119.3,805.1 1122.6,803.7 1125.9,802.5 1129.2,801.3 1132.6,800.2 1135.9,799.3 1139.2,798.4 1142.5,797.5 1145.8,796.8 1149.2,796 1152.5,795.4 1155.8,794.8 1159.1,794.3 1162.4,793.8 1165.8,793.3 1169.1,792.9 1172.4,792.5 1175.7,792.2 1179,791.8 1182.3,791.5 1185.7,791.3 1189,791 1192.3,790.8 1195.6,790.6 1198.9,790.4 1202.3,790.2 1205.6,790.1 1208.9,789.9 1212.2,789.8 1215.5,789.7 1218.9,789.6 1222.2,789.5 1225.5,789.4 1228.8,789.3 1232.1,789.2 1235.5,789.1 1238.8,789.1 1242.1,789 1245.4,789 1248.7,788.9 1252,788.9 1255.4,788.8 1258.7,788.8 1262,788.8 1265.3,788.7 1268.6,788.7 1272,788.7 1275.3,788.7 1278.6,788.6 1281.9,788.6 1285.2,788.6 1285.2,789 1281.9,789.1 1278.6,789.1 1275.3,789.2 1272,789.3 1268.6,789.3 1265.3,789.4 1262,789.5 1258.7,789.6 1255.4,789.7 1252,789.8 1248.7,789.9 1245.4,790 1242.1,790.1 1238.8,790.2 1235.5,790.4 1232.1,790.5 1228.8,790.7 1225.5,790.9 1222.2,791.1 1218.9,791.3 1215.5,791.5 1212.2,791.7 1208.9,792 1205.6,792.3 1202.3,792.6 1198.9,792.9 1195.6,793.3 1192.3,793.6 1189,794 1185.7,794.5 1182.3,795 1179,795.5 1175.7,796 1172.4,796.6 1169.1,797.2 1165.8,797.9 1162.4,798.6 1159.1,799.4 1155.8,800.3 1152.5,801.2 1149.2,802.2 1145.8,803.2 1142.5,804.4 1139.2,805.6 1135.9,806.9 1132.6,808.3 1129.2,809.8 1125.9,811.4 1122.6,813.1 1119.3,815 1116,817 1112.6,819.1 1109.3,821.4 1106,823.9 1102.7,826.5 1099.4,829.3 1096,832.3 1092.7,835.5 1089.4,838.9 1086.1,842.5 1082.8,846.4 1079.5,850.5 1076.1,854.8 1072.8,859.4 1069.5,864.3 1066.2,869.5 1062.9,875 1059.5,880.8 1056.2,886.9 1052.9,893.3 1049.6,900 1046.3,907 1042.9,914.3 1039.6,921.9 1036.3,929.8 1033,937.9 1029.7,946.3 1026.3,954.9 1023,963.8 1019.7,972.8 1016.4,982 1013.1,991.3 1009.8,1000.6 1006.4,1010 1003.1,1019.4 999.8,1028.8 996.5,1038.1 993.2,1047.3 989.8,1056.4 986.5,1065.3 983.2,1074 979.9,1082.4 976.6,1090.6 973.2,1098.6 969.9,1106.2 966.6,1113.6 963.3,1120.6 960,1127.3 956.6,1133.7 953.3,1139.7 950,1145.5 946.7,1150.9 943.4,1156 940,1160.8 936.7,1165.3 933.4,1169.5 930.1,1173.4 926.8,1177 923.5,1180.5 920.1,1183.6 916.8,1186.6 913.5,1189.3 910.2,1191.8 906.9,1194.2 903.5,1196.3 900.2,1198.3 896.9,1200.2 893.6,1201.9 890.3,1203.4 886.9,1204.9 883.6,1206.2 880.3,1207.4 877,1208.5 873.7,1209.6 870.3,1210.5 867,1211.4 863.7,1212.2 860.4,1212.9 857.1,1213.5 853.8,1214.2 850.4,1214.7 847.1,1215.2 843.8,1215.7 840.5,1216.1 837.2,1216.5 833.8,1216.9 830.5,1217.2 827.2,1217.5 823.9,1217.8 820.6,1218 817.2,1218.3 813.9,1218.5 810.6,1218.7 807.3,1218.8 804,1219 800.6,1219.2 797.3,1219.3 794,1219.4 790.7,1219.5 787.4,1219.6 784,1219.7 780.7,1219.8 777.4,1219.9 774.1,1219.9 770.8,1220 767.5,1220.1 764.1,1220.1 760.8,1220.2 757.5,1220.2" fill="#cdcdcd"/>
<g fill="#000" fill-opacity="0.55">
<circle cx="943" cy="788.4" r="1.5"/>
<circle cx="946" cy="788.4" r="1.5"/>
<circle cx="949" cy="788.4" r="1.5"/>
<circle cx="953.5" cy="788.4" r="1.5"/>
<circle cx="957" cy="788.4" r="1.5"/>
<circle cx="960" cy="788.4" r="1.5"/>
<circle cx="965" cy="788.4" r="1.5"/>
<circle cx="980.5" cy="788.4" r="1.5"/>
<circle cx="983.1" cy="788.4" r="1.5"/>
<circle cx="984.9" cy="788.4" r="1.5"/>
<circle cx="987.5" cy="788.4" r="1.5"/>
<circle cx="991.5" cy="788.4" r="1.5"/>
<circle cx="993.7" cy="788.4" r="1.5"/>
<circle cx="996.7" cy="788.4" r="1.5"/>
<circle cx="998.4" cy="788.4" r="1.5"/>
<circle cx="1006" cy="788.4" r="1.5"/>
<circle cx="1013" cy="788.4" r="1.5"/>
<circle cx="1022.1" cy="788.4" r="1.5"/>
<circle cx="1025.5" cy="788.4" r="1.5"/>
<circle cx="1027.6" cy="788.4" r="1.5"/>
<circle cx="1029.6" cy="788.4" r="1.5"/>
<circle cx="1040" cy="788.4" r="1.5"/>
<circle cx="1042" cy="788.4" r="1.5"/>
<circle cx="1044.8" cy="788.4" r="1.5"/>
<circle cx="1046.2" cy="788.4" r="1.5"/>
<circle cx="1049.8" cy="788.4" r="1.5"/>
<circle cx="1056" cy="788.4" r="1.5"/>
<circle cx="1061.8" cy="788.4" r="1.5"/>
<circle cx="1064.2" cy="788.4" r="1.5"/>
<circle cx="1065.4" cy="788.4" r="1.5"/>
<circle cx="1066.9" cy="788.4" r="1.5"/>
<circle cx="1068.8" cy="788.4" r="1.5"/>
<circle cx="1070.8" cy="788.4" r="1.5"/>
<circle cx="1071.7" cy="788.4" r="1.5"/>
<circle cx="1073.2" cy="788.4" r="1.5"/>
<circle cx="1075.3" cy="788.4" r="1.5"/>
<circle cx="1076.6" cy="788.4" r="1.5"/>
<circle cx="1084.9" cy="788.4" r="1.5"/>
<circle cx="1086.2" cy="788.4" r="1.5"/>
<circle cx="1087.5" cy="788.4" r="1.5"/>
<circle cx="1088.9" cy="788.4" r="1.5"/>
<circle cx="1090.3" cy="788.4" r="1.5"/>
<circle cx="1091.6" cy="788.4" r="1.5"/>
<circle cx="1093.3" cy="788.4" r="1.5"/>
<circle cx="1094.2" cy="788.4" r="1.5"/>
<circle cx="1095.7" cy="788.4" r="1.5"/>
<circle cx="1096.7" cy="788.4" r="1.5"/>
<circle cx="1098.2" cy="788.4" r="1.5"/>
<circle cx="1099.2" cy="788.4" r="1.5"/>
<circle cx="1100.7" cy="788.4" r="1.5"/>
<circle cx="1101.8" cy="788.4" r="1.5"/>
<circle cx="1103.7" cy="788.4" r="1.5"/>
<circle cx="1104.9" cy="788.4" r="1.5"/>
<circle cx="1105.9" cy="788.4" r="1.5"/>
<circle cx="1107.4" cy="788.4" r="1.5"/>
<circle cx="1109.1" cy="788.4" r="1.5"/>
<circle cx="1109.8" cy="788.4" r="1.5"/>
<circle cx="1111.6" cy="788.4" r="1.5"/>
<circle cx="1112.6" cy="788.4" r="1.5"/>
<circle cx="1114" cy="788.4" r="1.5"/>
<circle cx="1115.6" cy="788.4" r="1.5"/>
<circle cx="1116.5" cy="788.4" r="1.5"/>
<circle cx="1117.9" cy="788.4" r="1.5"/>
<circle cx="1119.4" cy="788.4" r="1.5"/>
<circle cx="1120.9" cy="788.4" r="1.5"/>
<circle cx="1121.7" cy="788.4" r="1.5"/>
<circle cx="1123.4" cy="788.4" r="1.5"/>
<circle cx="1124.6" cy="788.4" r="1.5"/>
<circle cx="1125.9" cy="788.4" r="1.5"/>
<circle cx="1127" cy="788.4" r="1.5"/>
<circle cx="1128.3" cy="788.4" r="1.5"/>
<circle cx="1129.4" cy="788.4" r="1.5"/>
<circle cx="1130.7" cy="788.4" r="1.5"/>
<circle cx="1132" cy="788.4" r="1.5"/>
<circle cx="1133.8" cy="788.4" r="1.5"/>
<circle cx="1134.8" cy="788.4" r="1.5"/>
<circle cx="1136" cy="788.4" r="1.5"/>
<circle cx="1137.3" cy="788.4" r="1.5"/>
<circle cx="1139.2" cy="788.4" r="1.5"/>
<circle cx="1140.5" cy="788.4" r="1.5"/>
<circle cx="1141.6" cy="788.4" r="1.5"/>
<circle cx="1142.6" cy="788.4" r="1.5"/>
<circle cx="1143.9" cy="788.4" r="1.5"/>
<circle cx="1145.3" cy="788.4" r="1.5"/>
<circle cx="1146.7" cy="788.4" r="1.5"/>
<circle cx="1147.8" cy="788.4" r="1.5"/>
<circle cx="1149.3" cy="788.4" r="1.5"/>
<circle cx="1150.5" cy="788.4" r="1.5"/>
<circle cx="1152.3" cy="788.4" r="1.5"/>
<circle cx="1153.7" cy="788.4" r="1.5"/>
<circle cx="1154.6" cy="788.4" r="1.5"/>
<circle cx="1155.7" cy="788.4" r="1.5"/>
<circle cx="1157.6" cy="788.4" r="1.5"/>
<circle cx="1158.4" cy="788.4" r="1.5"/>
<circle cx="1159.7" cy="788.4" r="1.5"/>
<circle cx="1160.8" cy="788.4" r="1.5"/>
<circle cx="1162.4" cy="788.4" r="1.5"/>
<circle cx="1163.8" cy="788.4" r="1.5"/>
<circle cx="1165.1" cy="788.4" r="1.5"/>
<circle cx="1175" cy="788.4" r="1.5"/>
<circle cx="1187.6" cy="788.4" r="1.5"/>
<circle cx="1190" cy="788.4" r="1.5"/>
<circle cx="1193.4" cy="788.4" r="1.5"/>
</g>
<g fill="#000" fill-opacity="0.5">
<circle cx="782" cy="1220.7" r="1.5"/>
<circle cx="786" cy="1220.7" r="1.5"/>
<circle cx="804" cy="1220.7" r="1.5"/>
</g>
<g fill="#000" fill-opacity="0.5">
<circle cx="817.4" cy="1220.7" r="1.5"/>
<circle cx="818.6" cy="1220.7" r="1.5"/>
<circle cx="819.3" cy="1220.7" r="1.5"/>
<circle cx="820.5" cy="1220.7" r="1.5"/>
<circle cx="821.4" cy="1220.7" r="1.5"/>
<circle cx="822.6" cy="1220.7" r="1.5"/>
<circle cx="823.4" cy="1220.7" r="1.5"/>
<circle cx="824.4" cy="1220.7" r="1.5"/>
<circle cx="825.5" cy="1220.7" r="1.5"/>
<circle cx="826.5" cy="1220.7" r="1.5"/>
<circle cx="827.7" cy="1220.7" r="1.5"/>
<circle cx="828.7" cy="1220.7" r="1.5"/>
<circle cx="829.8" cy="1220.7" r="1.5"/>
<circle cx="830.8" cy="1220.7" r="1.5"/>
<circle cx="831.8" cy="1220.7" r="1.5"/>
<circle cx="832.9" cy="1220.7" r="1.5"/>
<circle cx="833.6" cy="1220.7" r="1.5"/>
<circle cx="834.6" cy="1220.7" r="1.5"/>
<circle cx="836" cy="1220.7" r="1.5"/>
<circle cx="836.5" cy="1220.7" r="1.5"/>
<circle cx="837.9" cy="1220.7" r="1.5"/>
<circle cx="838.8" cy="1220.7" r="1.5"/>
<circle cx="839.5" cy="1220.7" r="1.5"/>
<circle cx="840.9" cy="1220.7" r="1.5"/>
<circle cx="842" cy="1220.7" r="1.5"/>
<circle cx="842.8" cy="1220.7" r="1.5"/>
<circle cx="843.9" cy="1220.7" r="1.5"/>
<circle cx="844.9" cy="1220.7" r="1.5"/>
<circle cx="845.5" cy="1220.7" r="1.5"/>
<circle cx="846.8" cy="1220.7" r="1.5"/>
<circle cx="847.8" cy="1220.7" r="1.5"/>
<circle cx="849" cy="1220.7" r="1.5"/>
<circle cx="850" cy="1220.7" r="1.5"/>
<circle cx="851" cy="1220.7" r="1.5"/>
<circle cx="851.9" cy="1220.7" r="1.5"/>
<circle cx="853" cy="1220.7" r="1.5"/>
<circle cx="853.9" cy="1220.7" r="1.5"/>
<circle cx="854.9" cy="1220.7" r="1.5"/>
<circle cx="855.7" cy="1220.7" r="1.5"/>
<circle cx="856.5" cy="1220.7" r="1.5"/>
<circle cx="857.6" cy="1220.7" r="1.5"/>
<circle cx="858.8" cy="1220.7" r="1.5"/>
<circle cx="859.6" cy="1220.7" r="1.5"/>
<circle cx="861.1" cy="1220.7" r="1.5"/>
<circle cx="861.9" cy="1220.7" r="1.5"/>
<circle cx="862.9" cy="1220.7" r="1.5"/>
<circle cx="863.9" cy="1220.7" r="1.5"/>
<circle cx="865" cy="1220.7" r="1.5"/>
<circle cx="865.9" cy="1220.7" r="1.5"/>
<circle cx="866.6" cy="1220.7" r="1.5"/>
<circle cx="868.1" cy="1220.7" r="1.5"/>
<circle cx="869" cy="1220.7" r="1.5"/>
<circle cx="869.9" cy="1220.7" r="1.5"/>
<circle cx="870.9" cy="1220.7" r="1.5"/>
<circle cx="872" cy="1220.7" r="1.5"/>
<circle cx="872.7" cy="1220.7" r="1.5"/>
<circle cx="874.1" cy="1220.7" r="1.5"/>
<circle cx="874.8" cy="1220.7" r="1.5"/>
<circle cx="875.7" cy="1220.7" r="1.5"/>
<circle cx="876.8" cy="1220.7" r="1.5"/>
<circle cx="878.1" cy="1220.7" r="1.5"/>
<circle cx="878.8" cy="1220.7" r="1.5"/>
<circle cx="880.1" cy="1220.7" r="1.5"/>
<circle cx="881.3" cy="1220.7" r="1.5"/>
<circle cx="882" cy="1220.7" r="1.5"/>
<circle cx="882.9" cy="1220.7" r="1.5"/>
<circle cx="884" cy="1220.7" r="1.5"/>
<circle cx="885.1" cy="1220.7" r="1.5"/>
<circle cx="886.2" cy="1220.7" r="1.5"/>
<circle cx="887.1" cy="1220.7" r="1.5"/>
<circle cx="888.1" cy="1220.7" r="1.5"/>
<circle cx="888.8" cy="1220.7" r="1.5"/>
<circle cx="889.8" cy="1220.7" r="1.5"/>
<circle cx="890.9" cy="1220.7" r="1.5"/>
<circle cx="892.2" cy="1220.7" r="1.5"/>
<circle cx="892.9" cy="1220.7" r="1.5"/>
<circle cx="894.1" cy="1220.7" r="1.5"/>
<circle cx="894.8" cy="1220.7" r="1.5"/>
<circle cx="895.8" cy="1220.7" r="1.5"/>
<circle cx="896.9" cy="1220.7" r="1.5"/>
<circle cx="898.2" cy="1220.7" r="1.5"/>
<circle cx="899.2" cy="1220.7" r="1.5"/>
<circle cx="900.2" cy="1220.7" r="1.5"/>
<circle cx="901" cy="1220.7" r="1.5"/>
<circle cx="902.1" cy="1220.7" r="1.5"/>
<circle cx="903.1" cy="1220.7" r="1.5"/>
<circle cx="904.1" cy="1220.7" r="1.5"/>
<circle cx="904.9" cy="1220.7" r="1.5"/>
<circle cx="906.4" cy="1220.7" r="1.5"/>
<circle cx="906.9" cy="1220.7" r="1.5"/>
<circle cx="908.4" cy="1220.7" r="1.5"/>
<circle cx="909.4" cy="1220.7" r="1.5"/>
<circle cx="909.8" cy="1220.7" r="1.5"/>
<circle cx="911.1" cy="1220.7" r="1.5"/>
<circle cx="912.3" cy="1220.7" r="1.5"/>
<circle cx="913.4" cy="1220.7" r="1.5"/>
<circle cx="914.1" cy="1220.7" r="1.5"/>
<circle cx="915" cy="1220.7" r="1.5"/>
<circle cx="916" cy="1220.7" r="1.5"/>
<circle cx="917.4" cy="1220.7" r="1.5"/>
<circle cx="918" cy="1220.7" r="1.5"/>
<circle cx="919.2" cy="1220.7" r="1.5"/>
<circle cx="920" cy="1220.7" r="1.5"/>
<circle cx="921.2" cy="1220.7" r="1.5"/>
<circle cx="922.5" cy="1220.7" r="1.5"/>
<circle cx="923" cy="1220.7" r="1.5"/>
<circle cx="924.4" cy="1220.7" r="1.5"/>
<circle cx="925.2" cy="1220.7" r="1.5"/>
<circle cx="926.5" cy="1220.7" r="1.5"/>
<circle cx="927.4" cy="1220.7" r="1.5"/>
<circle cx="928.1" cy="1220.7" r="1.5"/>
<circle cx="929.5" cy="1220.7" r="1.5"/>
<circle cx="930.2" cy="1220.7" r="1.5"/>
<circle cx="931" cy="1220.7" r="1.5"/>
<circle cx="932" cy="1220.7" r="1.5"/>
<circle cx="933.3" cy="1220.7" r="1.5"/>
<circle cx="934.2" cy="1220.7" r="1.5"/>
<circle cx="935.2" cy="1220.7" r="1.5"/>
<circle cx="936.1" cy="1220.7" r="1.5"/>
<circle cx="937.2" cy="1220.7" r="1.5"/>
</g>
<g fill="#000" fill-opacity="0.6">
<circle cx="938.3" cy="1220.7" r="1.5"/>
<circle cx="940.3" cy="1220.7" r="1.5"/>
<circle cx="941.1" cy="1220.7" r="1.5"/>
<circle cx="943.3" cy="1220.7" r="1.5"/>
<circle cx="945" cy="1220.7" r="1.5"/>
<circle cx="945.8" cy="1220.7" r="1.5"/>
<circle cx="948.1" cy="1220.7" r="1.5"/>
<circle cx="949.5" cy="1220.7" r="1.5"/>
<circle cx="951.2" cy="1220.7" r="1.5"/>
<circle cx="952.2" cy="1220.7" r="1.5"/>
<circle cx="953.8" cy="1220.7" r="1.5"/>
<circle cx="955.4" cy="1220.7" r="1.5"/>
<circle cx="957.5" cy="1220.7" r="1.5"/>
<circle cx="958.6" cy="1220.7" r="1.5"/>
<circle cx="960" cy="1220.7" r="1.5"/>
<circle cx="961.6" cy="1220.7" r="1.5"/>
<circle cx="963" cy="1220.7" r="1.5"/>
<circle cx="964.3" cy="1220.7" r="1.5"/>
<circle cx="965.9" cy="1220.7" r="1.5"/>
<circle cx="968.1" cy="1220.7" r="1.5"/>
<circle cx="969.2" cy="1220.7" r="1.5"/>
<circle cx="971.3" cy="1220.7" r="1.5"/>
<circle cx="979" cy="1220.7" r="1.5"/>
<circle cx="981" cy="1220.7" r="1.5"/>
<circle cx="983" cy="1220.7" r="1.5"/>
<circle cx="986" cy="1220.7" r="1.5"/>
<circle cx="988" cy="1220.7" r="1.5"/>
<circle cx="990" cy="1220.7" r="1.5"/>
<circle cx="992" cy="1220.7" r="1.5"/>
<circle cx="995" cy="1220.7" r="1.5"/>
<circle cx="1002" cy="1220.7" r="1.5"/>
<circle cx="1004" cy="1220.7" r="1.5"/>
<circle cx="1006" cy="1220.7" r="1.5"/>
<circle cx="1009" cy="1220.7" r="1.5"/>
<circle cx="1011" cy="1220.7" r="1.5"/>
<circle cx="1027" cy="1220.7" r="1.5"/>
<circle cx="1033" cy="1220.7" r="1.5"/>
<circle cx="1045.7" cy="1220.7" r="1.5"/>
<circle cx="1052.6" cy="1220.7" r="1.5"/>
<circle cx="1066" cy="1220.7" r="1.5"/>
<circle cx="1072" cy="1220.7" r="1.5"/>
<circle cx="1080" cy="1220.7" r="1.5"/>
<circle cx="1088" cy="1220.7" r="1.5"/>
<circle cx="1096" cy="1220.7" r="1.5"/>
<circle cx="1104" cy="1220.7" r="1.5"/>
<circle cx="1110" cy="1220.7" r="1.5"/>
<circle cx="1131" cy="1220.7" r="1.5"/>
<circle cx="1158" cy="1220.7" r="1.5"/>
<circle cx="1162" cy="1220.7" r="1.5"/>
<circle cx="1186" cy="1220.7" r="1.5"/>
<circle cx="1249.5" cy="1220.7" r="1.5"/>
<circle cx="1285.5" cy="1220.7" r="1.5"/>
</g>
<polyline points="757.5,1219.7 760.8,1219.6 764.1,1219.5 767.5,1219.4 770.8,1219.3 774.1,1219.2 777.4,1219.1 780.7,1218.9 784,1218.8 787.4,1218.6 790.7,1218.4 794,1218.2 797.3,1218 800.6,1217.8 804,1217.5 807.3,1217.3 810.6,1217 813.9,1216.7 817.2,1216.3 820.6,1215.9 823.9,1215.5 827.2,1215.1 830.5,1214.6 833.8,1214.1 837.2,1213.5 840.5,1212.9 843.8,1212.3 847.1,1211.6 850.4,1210.8 853.8,1210 857.1,1209.1 860.4,1208.1 863.7,1207 867,1205.9 870.3,1204.6 873.7,1203.3 877,1201.9 880.3,1200.3 883.6,1198.6 886.9,1196.8 890.3,1194.9 893.6,1192.8 896.9,1190.6 900.2,1188.1 903.5,1185.6 906.9,1182.8 910.2,1179.8 913.5,1176.6 916.8,1173.2 920.1,1169.6 923.5,1165.8 926.8,1161.7 930.1,1157.3 933.4,1152.7 936.7,1147.8 940,1142.6 943.4,1137.2 946.7,1131.4 950,1125.4 953.3,1119.1 956.6,1112.5 960,1105.6 963.3,1098.5 966.6,1091.1 969.9,1083.5 973.2,1075.6 976.6,1067.5 979.9,1059.2 983.2,1050.7 986.5,1042 989.8,1033.3 993.2,1024.4 996.5,1015.5 999.8,1006.6 1003.1,997.6 1006.4,988.6 1009.8,979.8 1013.1,971 1016.4,962.3 1019.7,953.7 1023,945.3 1026.3,937.1 1029.7,929.1 1033,921.4 1036.3,913.9 1039.6,906.6 1042.9,899.6 1046.3,892.9 1049.6,886.5 1052.9,880.3 1056.2,874.5 1059.5,868.9 1062.9,863.6 1066.2,858.6 1069.5,853.8 1072.8,849.4 1076.1,845.1 1079.5,841.2 1082.8,837.4 1086.1,834 1089.4,830.7 1092.7,827.6 1096,824.8 1099.4,822.1 1102.7,819.6 1106,817.3 1109.3,815.1 1112.6,813.1 1116,811.3 1119.3,809.5 1122.6,807.9 1125.9,806.4 1129.2,805 1132.6,803.8 1135.9,802.6 1139.2,801.5 1142.5,800.5 1145.8,799.5 1149.2,798.7 1152.5,797.9 1155.8,797.1 1159.1,796.5 1162.4,795.8 1165.8,795.2 1169.1,794.7 1172.4,794.2 1175.7,793.8 1179,793.3 1182.3,792.9 1185.7,792.6 1189,792.3 1192.3,791.9 1195.6,791.7 1198.9,791.4 1202.3,791.2 1205.6,791 1208.9,790.8 1212.2,790.6 1215.5,790.4 1218.9,790.2 1222.2,790.1 1225.5,790 1228.8,789.8 1232.1,789.7 1235.5,789.6 1238.8,789.5 1242.1,789.4 1245.4,789.3 1248.7,789.3 1252,789.2 1255.4,789.1 1258.7,789.1 1262,789 1265.3,789 1268.6,788.9 1272,788.9 1275.3,788.8 1278.6,788.8 1281.9,788.8 1285.2,788.8" fill="none" stroke="#34349a" stroke-width="1.8" stroke-linejoin="round"/>
<text x="835" y="1263.2" font-size="15.6" fill="#5e5e5e" text-anchor="middle">5</text>
<text x="947" y="1263.2" font-size="15.6" fill="#5e5e5e" text-anchor="middle">10</text>
<text x="1059" y="1263.2" font-size="15.6" fill="#5e5e5e" text-anchor="middle">15</text>
<text x="1171" y="1263.2" font-size="15.6" fill="#5e5e5e" text-anchor="middle">20</text>
<text x="1283" y="1263.2" font-size="15.6" fill="#5e5e5e" text-anchor="middle">25</text>
<text x="1021" y="1285" font-size="20.6" fill="#2e2e2e" text-anchor="middle" textLength="116" lengthAdjust="spacingAndGlyphs" stroke="#2e2e2e" stroke-width="0.3">soil_calcium</text>
<text x="685.5" y="1004" font-size="21" fill="#2e2e2e" text-anchor="middle" textLength="232" lengthAdjust="spacingAndGlyphs" transform="rotate(-90 685.5 1004)" stroke="#2e2e2e" stroke-width="0.3">Probability of occurrence</text>
<rect x="1390.4" y="765.9" width="583.2" height="473.5" fill="#ebebeb"/>
<line x1="1472.2" y1="765.9" x2="1472.2" y2="1239.4" stroke="#f3f3f3" stroke-width="1.1"/>
<line x1="1591.8" y1="765.9" x2="1591.8" y2="1239.4" stroke="#f3f3f3" stroke-width="1.1"/>
<line x1="1711.2" y1="765.9" x2="1711.2" y2="1239.4" stroke="#f3f3f3" stroke-width="1.1"/>
<line x1="1830.8" y1="765.9" x2="1830.8" y2="1239.4" stroke="#f3f3f3" stroke-width="1.1"/>
<line x1="1950.2" y1="765.9" x2="1950.2" y2="1239.4" stroke="#f3f3f3" stroke-width="1.1"/>
<line x1="1390.4" y1="1165" x2="1973.6" y2="1165" stroke="#f3f3f3" stroke-width="1.1"/>
<line x1="1390.4" y1="1057.1" x2="1973.6" y2="1057.1" stroke="#f3f3f3" stroke-width="1.1"/>
<line x1="1390.4" y1="949.1" x2="1973.6" y2="949.1" stroke="#f3f3f3" stroke-width="1.1"/>
<line x1="1390.4" y1="841.2" x2="1973.6" y2="841.2" stroke="#f3f3f3" stroke-width="1.1"/>
<line x1="1412.5" y1="765.9" x2="1412.5" y2="1239.4" stroke="#f6f6f6" stroke-width="1.4"/>
<line x1="1412.5" y1="1239.9" x2="1412.5" y2="1242.6" stroke="#707070" stroke-width="1.3"/>
<line x1="1532" y1="765.9" x2="1532" y2="1239.4" stroke="#f6f6f6" stroke-width="1.4"/>
<line x1="1532" y1="1239.9" x2="1532" y2="1242.6" stroke="#707070" stroke-width="1.3"/>
<line x1="1651.5" y1="765.9" x2="1651.5" y2="1239.4" stroke="#f6f6f6" stroke-width="1.4"/>
<line x1="1651.5" y1="1239.9" x2="1651.5" y2="1242.6" stroke="#707070" stroke-width="1.3"/>
<line x1="1771" y1="765.9" x2="1771" y2="1239.4" stroke="#f6f6f6" stroke-width="1.4"/>
<line x1="1771" y1="1239.9" x2="1771" y2="1242.6" stroke="#707070" stroke-width="1.3"/>
<line x1="1890.5" y1="765.9" x2="1890.5" y2="1239.4" stroke="#f6f6f6" stroke-width="1.4"/>
<line x1="1890.5" y1="1239.9" x2="1890.5" y2="1242.6" stroke="#707070" stroke-width="1.3"/>
<line x1="1390.4" y1="1219" x2="1973.6" y2="1219" stroke="#f6f6f6" stroke-width="1.4"/>
<line x1="1387.2" y1="1219" x2="1389.9" y2="1219" stroke="#707070" stroke-width="1.3"/>
<text x="1383.4" y="1224.6" font-size="15.6" fill="#5e5e5e" text-anchor="end" textLength="31" lengthAdjust="spacingAndGlyphs">0.00</text>
<line x1="1390.4" y1="1111" x2="1973.6" y2="1111" stroke="#f6f6f6" stroke-width="1.4"/>
<line x1="1387.2" y1="1111" x2="1389.9" y2="1111" stroke="#707070" stroke-width="1.3"/>
<text x="1383.4" y="1116.6" font-size="15.6" fill="#5e5e5e" text-anchor="end" textLength="31" lengthAdjust="spacingAndGlyphs">0.25</text>
<line x1="1390.4" y1="1003.1" x2="1973.6" y2="1003.1" stroke="#f6f6f6" stroke-width="1.4"/>
<line x1="1387.2" y1="1003.1" x2="1389.9" y2="1003.1" stroke="#707070" stroke-width="1.3"/>
<text x="1383.4" y="1008.7" font-size="15.6" fill="#5e5e5e" text-anchor="end" textLength="31" lengthAdjust="spacingAndGlyphs">0.50</text>
<line x1="1390.4" y1="895.1" x2="1973.6" y2="895.1" stroke="#f6f6f6" stroke-width="1.4"/>
<line x1="1387.2" y1="895.1" x2="1389.9" y2="895.1" stroke="#707070" stroke-width="1.3"/>
<text x="1383.4" y="900.8" font-size="15.6" fill="#5e5e5e" text-anchor="end" textLength="31" lengthAdjust="spacingAndGlyphs">0.75</text>
<line x1="1390.4" y1="787.2" x2="1973.6" y2="787.2" stroke="#f6f6f6" stroke-width="1.4"/>
<line x1="1387.2" y1="787.2" x2="1389.9" y2="787.2" stroke="#707070" stroke-width="1.3"/>
<text x="1383.4" y="792.8" font-size="15.6" fill="#5e5e5e" text-anchor="end" textLength="31" lengthAdjust="spacingAndGlyphs">1.00</text>
<polygon points="1416.9,977.4 1425.9,978.3 1434.9,979.2 1443.9,980.1 1452.9,980.9 1461.9,981.7 1470.9,982.5 1479.8,983.2 1488.8,983.9 1497.8,984.6 1506.8,985.3 1515.8,985.9 1524.8,986.5 1533.8,987 1542.8,987.4 1551.8,987.7 1560.8,987.9 1569.8,988.2 1578.7,988.4 1587.7,988.5 1596.7,988.6 1605.7,988.4 1614.7,988 1623.7,987.3 1632.7,986.5 1641.7,985.5 1650.7,984.1 1659.7,982.6 1668.6,981.1 1677.6,979.4 1686.6,977.7 1695.6,975.8 1704.6,974 1713.6,972 1722.6,970.1 1731.6,968.2 1740.6,966.2 1749.6,964.2 1758.6,962.2 1767.5,960.1 1776.5,958 1785.5,955.9 1794.5,953.7 1803.5,951.5 1812.5,949.2 1821.5,946.9 1830.5,944.6 1839.5,942.3 1848.5,940.1 1857.5,938 1866.4,935.9 1875.4,933.9 1884.4,931.9 1893.4,929.9 1902.4,927.9 1911.4,926 1920.4,924.1 1929.4,922.3 1938.4,920.4 1947.4,918.7 1947.4,1037.5 1938.4,1036.9 1929.4,1036.3 1920.4,1035.6 1911.4,1035 1902.4,1034.4 1893.4,1033.7 1884.4,1033.1 1875.4,1032.4 1866.4,1031.7 1857.5,1031 1848.5,1030.3 1839.5,1029.6 1830.5,1028.8 1821.5,1028 1812.5,1027.2 1803.5,1026.5 1794.5,1025.7 1785.5,1024.9 1776.5,1024.2 1767.5,1023.4 1758.6,1022.6 1749.6,1021.8 1740.6,1021.1 1731.6,1020.4 1722.6,1019.8 1713.6,1019.2 1704.6,1018.7 1695.6,1018.1 1686.6,1017.6 1677.6,1017.3 1668.6,1017.1 1659.7,1017.1 1650.7,1017.4 1641.7,1017.7 1632.7,1018.1 1623.7,1018.8 1614.7,1019.9 1605.7,1021.1 1596.7,1022.4 1587.7,1023.7 1578.7,1025.1 1569.8,1026.6 1560.8,1028.2 1551.8,1029.9 1542.8,1031.6 1533.8,1033.4 1524.8,1035.3 1515.8,1037.3 1506.8,1039.4 1497.8,1041.5 1488.8,1043.7 1479.8,1045.9 1470.9,1048.2 1461.9,1050.6 1452.9,1053 1443.9,1055.6 1434.9,1058.2 1425.9,1060.8 1416.9,1063.6" fill="#c7c7c7"/>
<g fill="#000" fill-opacity="0.5">
<circle cx="1421" cy="787.2" r="1.5"/>
<circle cx="1424.5" cy="787.2" r="1.5"/>
<circle cx="1434" cy="787.2" r="1.5"/>
<circle cx="1437.5" cy="787.2" r="1.5"/>
<circle cx="1460" cy="787.2" r="1.5"/>
<circle cx="1504" cy="787.2" r="1.5"/>
<circle cx="1508" cy="787.2" r="1.5"/>
<circle cx="1513" cy="787.2" r="1.5"/>
<circle cx="1520" cy="787.2" r="1.5"/>
<circle cx="1526" cy="787.2" r="1.5"/>
<circle cx="1530" cy="787.2" r="1.5"/>
<circle cx="1534" cy="787.2" r="1.5"/>
<circle cx="1538" cy="787.2" r="1.5"/>
<circle cx="1543" cy="787.2" r="1.5"/>
<circle cx="1547" cy="787.2" r="1.5"/>
<circle cx="1550" cy="787.2" r="1.5"/>
<circle cx="1556.3" cy="787.2" r="1.5"/>
<circle cx="1557.9" cy="787.2" r="1.5"/>
<circle cx="1559.7" cy="787.2" r="1.5"/>
<circle cx="1560.8" cy="787.2" r="1.5"/>
<circle cx="1562.5" cy="787.2" r="1.5"/>
<circle cx="1564.8" cy="787.2" r="1.5"/>
<circle cx="1566.2" cy="787.2" r="1.5"/>
<circle cx="1567.6" cy="787.2" r="1.5"/>
<circle cx="1568.9" cy="787.2" r="1.5"/>
<circle cx="1570.8" cy="787.2" r="1.5"/>
<circle cx="1572.3" cy="787.2" r="1.5"/>
<circle cx="1573.3" cy="787.2" r="1.5"/>
<circle cx="1575" cy="787.2" r="1.5"/>
<circle cx="1575.6" cy="787.2" r="1.5"/>
<circle cx="1578.1" cy="787.2" r="1.5"/>
<circle cx="1579.2" cy="787.2" r="1.5"/>
<circle cx="1581.1" cy="787.2" r="1.5"/>
<circle cx="1582.4" cy="787.2" r="1.5"/>
<circle cx="1583.5" cy="787.2" r="1.5"/>
<circle cx="1584.7" cy="787.2" r="1.5"/>
<circle cx="1587.3" cy="787.2" r="1.5"/>
<circle cx="1587.8" cy="787.2" r="1.5"/>
<circle cx="1589.7" cy="787.2" r="1.5"/>
<circle cx="1591.1" cy="787.2" r="1.5"/>
<circle cx="1592.5" cy="787.2" r="1.5"/>
<circle cx="1594.6" cy="787.2" r="1.5"/>
<circle cx="1596.4" cy="787.2" r="1.5"/>
<circle cx="1597" cy="787.2" r="1.5"/>
<circle cx="1599" cy="787.2" r="1.5"/>
<circle cx="1600" cy="787.2" r="1.5"/>
<circle cx="1601.9" cy="787.2" r="1.5"/>
<circle cx="1603.2" cy="787.2" r="1.5"/>
<circle cx="1604.4" cy="787.2" r="1.5"/>
<circle cx="1605.9" cy="787.2" r="1.5"/>
<circle cx="1607.4" cy="787.2" r="1.5"/>
<circle cx="1609.9" cy="787.2" r="1.5"/>
<circle cx="1610.8" cy="787.2" r="1.5"/>
<circle cx="1612" cy="787.2" r="1.5"/>
<circle cx="1614.4" cy="787.2" r="1.5"/>
<circle cx="1616" cy="787.2" r="1.5"/>
<circle cx="1616.8" cy="787.2" r="1.5"/>
<circle cx="1617.9" cy="787.2" r="1.5"/>
<circle cx="1619.4" cy="787.2" r="1.5"/>
<circle cx="1620.8" cy="787.2" r="1.5"/>
<circle cx="1622.7" cy="787.2" r="1.5"/>
<circle cx="1623.8" cy="787.2" r="1.5"/>
<circle cx="1625.5" cy="787.2" r="1.5"/>
<circle cx="1627.1" cy="787.2" r="1.5"/>
<circle cx="1629" cy="787.2" r="1.5"/>
<circle cx="1630.9" cy="787.2" r="1.5"/>
<circle cx="1632.2" cy="787.2" r="1.5"/>
<circle cx="1633.3" cy="787.2" r="1.5"/>
<circle cx="1634.8" cy="787.2" r="1.5"/>
<circle cx="1636.4" cy="787.2" r="1.5"/>
<circle cx="1637.8" cy="787.2" r="1.5"/>
<circle cx="1639.2" cy="787.2" r="1.5"/>
<circle cx="1640.3" cy="787.2" r="1.5"/>
<circle cx="1642.1" cy="787.2" r="1.5"/>
<circle cx="1644.6" cy="787.2" r="1.5"/>
<circle cx="1644.9" cy="787.2" r="1.5"/>
<circle cx="1646.9" cy="787.2" r="1.5"/>
<circle cx="1648.6" cy="787.2" r="1.5"/>
<circle cx="1650.4" cy="787.2" r="1.5"/>
<circle cx="1651.1" cy="787.2" r="1.5"/>
<circle cx="1652.7" cy="787.2" r="1.5"/>
<circle cx="1654.1" cy="787.2" r="1.5"/>
<circle cx="1655.8" cy="787.2" r="1.5"/>
<circle cx="1657.4" cy="787.2" r="1.5"/>
<circle cx="1659.6" cy="787.2" r="1.5"/>
<circle cx="1661" cy="787.2" r="1.5"/>
<circle cx="1662.5" cy="787.2" r="1.5"/>
<circle cx="1662.8" cy="787.2" r="1.5"/>
<circle cx="1664.4" cy="787.2" r="1.5"/>
<circle cx="1666.8" cy="787.2" r="1.5"/>
<circle cx="1668.5" cy="787.2" r="1.5"/>
<circle cx="1669.5" cy="787.2" r="1.5"/>
<circle cx="1671.1" cy="787.2" r="1.5"/>
<circle cx="1671.8" cy="787.2" r="1.5"/>
<circle cx="1673.9" cy="787.2" r="1.5"/>
<circle cx="1676.1" cy="787.2" r="1.5"/>
<circle cx="1677.5" cy="787.2" r="1.5"/>
<circle cx="1679" cy="787.2" r="1.5"/>
<circle cx="1680.7" cy="787.2" r="1.5"/>
<circle cx="1681.2" cy="787.2" r="1.5"/>
<circle cx="1682.5" cy="787.2" r="1.5"/>
<circle cx="1684.1" cy="787.2" r="1.5"/>
<circle cx="1686.1" cy="787.2" r="1.5"/>
<circle cx="1687.8" cy="787.2" r="1.5"/>
<circle cx="1689.7" cy="787.2" r="1.5"/>
<circle cx="1690.9" cy="787.2" r="1.5"/>
<circle cx="1692.3" cy="787.2" r="1.5"/>
<circle cx="1693.9" cy="787.2" r="1.5"/>
<circle cx="1695" cy="787.2" r="1.5"/>
<circle cx="1696.7" cy="787.2" r="1.5"/>
<circle cx="1697.5" cy="787.2" r="1.5"/>
<circle cx="1700" cy="787.2" r="1.5"/>
<circle cx="1700.7" cy="787.2" r="1.5"/>
<circle cx="1703.2" cy="787.2" r="1.5"/>
<circle cx="1704.3" cy="787.2" r="1.5"/>
<circle cx="1705.4" cy="787.2" r="1.5"/>
<circle cx="1706.6" cy="787.2" r="1.5"/>
<circle cx="1708.3" cy="787.2" r="1.5"/>
<circle cx="1710.3" cy="787.2" r="1.5"/>
<circle cx="1711.9" cy="787.2" r="1.5"/>
<circle cx="1712.6" cy="787.2" r="1.5"/>
<circle cx="1714.1" cy="787.2" r="1.5"/>
<circle cx="1716.2" cy="787.2" r="1.5"/>
<circle cx="1717.8" cy="787.2" r="1.5"/>
<circle cx="1719" cy="787.2" r="1.5"/>
<circle cx="1720.3" cy="787.2" r="1.5"/>
<circle cx="1722.3" cy="787.2" r="1.5"/>
<circle cx="1723" cy="787.2" r="1.5"/>
<circle cx="1732" cy="787.2" r="1.5"/>
<circle cx="1741" cy="787.2" r="1.5"/>
<circle cx="1752" cy="787.2" r="1.5"/>
<circle cx="1756" cy="787.2" r="1.5"/>
<circle cx="1761" cy="787.2" r="1.5"/>
<circle cx="1792" cy="787.2" r="1.5"/>
<circle cx="1795" cy="787.2" r="1.5"/>
<circle cx="1803.7" cy="787.2" r="1.5"/>
<circle cx="1806" cy="787.2" r="1.5"/>
<circle cx="1840.7" cy="787.2" r="1.5"/>
<circle cx="1860" cy="787.2" r="1.5"/>
<circle cx="1868" cy="787.2" r="1.5"/>
</g>
<g fill="#000" fill-opacity="0.5">
<circle cx="1417" cy="1219" r="1.5"/>
<circle cx="1437" cy="1219" r="1.5"/>
<circle cx="1445" cy="1219" r="1.5"/>
<circle cx="1448.5" cy="1219" r="1.5"/>
<circle cx="1462.4" cy="1219" r="1.5"/>
<circle cx="1464.6" cy="1219" r="1.5"/>
<circle cx="1467.3" cy="1219" r="1.5"/>
<circle cx="1469" cy="1219" r="1.5"/>
<circle cx="1471.4" cy="1219" r="1.5"/>
<circle cx="1472.9" cy="1219" r="1.5"/>
<circle cx="1474.7" cy="1219" r="1.5"/>
<circle cx="1476.8" cy="1219" r="1.5"/>
<circle cx="1479.7" cy="1219" r="1.5"/>
<circle cx="1481.5" cy="1219" r="1.5"/>
<circle cx="1483" cy="1219" r="1.5"/>
<circle cx="1484.8" cy="1219" r="1.5"/>
<circle cx="1487.4" cy="1219" r="1.5"/>
<circle cx="1489.7" cy="1219" r="1.5"/>
<circle cx="1491.5" cy="1219" r="1.5"/>
<circle cx="1493.3" cy="1219" r="1.5"/>
<circle cx="1495.2" cy="1219" r="1.5"/>
<circle cx="1497" cy="1219" r="1.5"/>
<circle cx="1497.5" cy="1219" r="1.5"/>
<circle cx="1498.7" cy="1219" r="1.5"/>
<circle cx="1500.4" cy="1219" r="1.5"/>
<circle cx="1502" cy="1219" r="1.5"/>
<circle cx="1503.7" cy="1219" r="1.5"/>
<circle cx="1504.5" cy="1219" r="1.5"/>
<circle cx="1506.6" cy="1219" r="1.5"/>
<circle cx="1508" cy="1219" r="1.5"/>
<circle cx="1509.1" cy="1219" r="1.5"/>
<circle cx="1510.1" cy="1219" r="1.5"/>
<circle cx="1512.5" cy="1219" r="1.5"/>
<circle cx="1513" cy="1219" r="1.5"/>
<circle cx="1515.1" cy="1219" r="1.5"/>
<circle cx="1515.8" cy="1219" r="1.5"/>
<circle cx="1517.1" cy="1219" r="1.5"/>
<circle cx="1519.2" cy="1219" r="1.5"/>
<circle cx="1520" cy="1219" r="1.5"/>
<circle cx="1522.3" cy="1219" r="1.5"/>
<circle cx="1523.1" cy="1219" r="1.5"/>
<circle cx="1524.1" cy="1219" r="1.5"/>
<circle cx="1525.6" cy="1219" r="1.5"/>
<circle cx="1527.2" cy="1219" r="1.5"/>
<circle cx="1528.9" cy="1219" r="1.5"/>
<circle cx="1530.7" cy="1219" r="1.5"/>
<circle cx="1531.1" cy="1219" r="1.5"/>
<circle cx="1532.8" cy="1219" r="1.5"/>
<circle cx="1534" cy="1219" r="1.5"/>
<circle cx="1536.3" cy="1219" r="1.5"/>
<circle cx="1536.7" cy="1219" r="1.5"/>
<circle cx="1538" cy="1219" r="1.5"/>
<circle cx="1539.4" cy="1219" r="1.5"/>
<circle cx="1541.2" cy="1219" r="1.5"/>
<circle cx="1543.3" cy="1219" r="1.5"/>
<circle cx="1544.6" cy="1219" r="1.5"/>
<circle cx="1545.9" cy="1219" r="1.5"/>
<circle cx="1547.6" cy="1219" r="1.5"/>
<circle cx="1548.9" cy="1219" r="1.5"/>
<circle cx="1549.6" cy="1219" r="1.5"/>
<circle cx="1550.8" cy="1219" r="1.5"/>
<circle cx="1553.1" cy="1219" r="1.5"/>
<circle cx="1554.3" cy="1219" r="1.5"/>
<circle cx="1554.8" cy="1219" r="1.5"/>
<circle cx="1557" cy="1219" r="1.5"/>
<circle cx="1558" cy="1219" r="1.5"/>
<circle cx="1559.4" cy="1219" r="1.5"/>
<circle cx="1560.8" cy="1219" r="1.5"/>
<circle cx="1562" cy="1219" r="1.5"/>
<circle cx="1563.2" cy="1219" r="1.5"/>
<circle cx="1564.9" cy="1219" r="1.5"/>
<circle cx="1566.4" cy="1219" r="1.5"/>
<circle cx="1568.6" cy="1219" r="1.5"/>
<circle cx="1569" cy="1219" r="1.5"/>
<circle cx="1571.4" cy="1219" r="1.5"/>
<circle cx="1571.9" cy="1219" r="1.5"/>
<circle cx="1573.5" cy="1219" r="1.5"/>
<circle cx="1575.5" cy="1219" r="1.5"/>
<circle cx="1576.9" cy="1219" r="1.5"/>
<circle cx="1577.8" cy="1219" r="1.5"/>
<circle cx="1578.7" cy="1219" r="1.5"/>
<circle cx="1580.6" cy="1219" r="1.5"/>
<circle cx="1581.9" cy="1219" r="1.5"/>
<circle cx="1584" cy="1219" r="1.5"/>
<circle cx="1584.5" cy="1219" r="1.5"/>
<circle cx="1586.1" cy="1219" r="1.5"/>
<circle cx="1588.2" cy="1219" r="1.5"/>
<circle cx="1588.5" cy="1219" r="1.5"/>
<circle cx="1590.4" cy="1219" r="1.5"/>
<circle cx="1592.3" cy="1219" r="1.5"/>
<circle cx="1593.6" cy="1219" r="1.5"/>
<circle cx="1594.1" cy="1219" r="1.5"/>
<circle cx="1595.5" cy="1219" r="1.5"/>
<circle cx="1597" cy="1219" r="1.5"/>
<circle cx="1599.4" cy="1219" r="1.5"/>
<circle cx="1600" cy="1219" r="1.5"/>
<circle cx="1602" cy="1219" r="1.5"/>
<circle cx="1603.6" cy="1219" r="1.5"/>
<circle cx="1604.3" cy="1219" r="1.5"/>
<circle cx="1605.6" cy="1219" r="1.5"/>
<circle cx="1607.9" cy="1219" r="1.5"/>
<circle cx="1608.9" cy="1219" r="1.5"/>
<circle cx="1609.8" cy="1219" r="1.5"/>
<circle cx="1611.8" cy="1219" r="1.5"/>
<circle cx="1612.7" cy="1219" r="1.5"/>
<circle cx="1614.1" cy="1219" r="1.5"/>
<circle cx="1615.1" cy="1219" r="1.5"/>
<circle cx="1617.5" cy="1219" r="1.5"/>
<circle cx="1619.1" cy="1219" r="1.5"/>
<circle cx="1620.1" cy="1219" r="1.5"/>
<circle cx="1621.9" cy="1219" r="1.5"/>
<circle cx="1622.2" cy="1219" r="1.5"/>
<circle cx="1623.8" cy="1219" r="1.5"/>
<circle cx="1625.5" cy="1219" r="1.5"/>
<circle cx="1627.6" cy="1219" r="1.5"/>
<circle cx="1629" cy="1219" r="1.5"/>
<circle cx="1629.6" cy="1219" r="1.5"/>
<circle cx="1630.9" cy="1219" r="1.5"/>
<circle cx="1632.5" cy="1219" r="1.5"/>
<circle cx="1634" cy="1219" r="1.5"/>
<circle cx="1635.9" cy="1219" r="1.5"/>
<circle cx="1636.4" cy="1219" r="1.5"/>
<circle cx="1638.6" cy="1219" r="1.5"/>
<circle cx="1639.9" cy="1219" r="1.5"/>
<circle cx="1641.4" cy="1219" r="1.5"/>
<circle cx="1642.8" cy="1219" r="1.5"/>
<circle cx="1644" cy="1219" r="1.5"/>
<circle cx="1645" cy="1219" r="1.5"/>
<circle cx="1646.4" cy="1219" r="1.5"/>
<circle cx="1647.9" cy="1219" r="1.5"/>
<circle cx="1649.8" cy="1219" r="1.5"/>
<circle cx="1650.3" cy="1219" r="1.5"/>
<circle cx="1651.9" cy="1219" r="1.5"/>
<circle cx="1654" cy="1219" r="1.5"/>
<circle cx="1654.7" cy="1219" r="1.5"/>
<circle cx="1655.9" cy="1219" r="1.5"/>
<circle cx="1657.3" cy="1219" r="1.5"/>
<circle cx="1659.3" cy="1219" r="1.5"/>
<circle cx="1660.4" cy="1219" r="1.5"/>
<circle cx="1662.7" cy="1219" r="1.5"/>
<circle cx="1664" cy="1219" r="1.5"/>
<circle cx="1665.5" cy="1219" r="1.5"/>
<circle cx="1666" cy="1219" r="1.5"/>
<circle cx="1667.2" cy="1219" r="1.5"/>
<circle cx="1668.6" cy="1219" r="1.5"/>
<circle cx="1670.5" cy="1219" r="1.5"/>
<circle cx="1672.2" cy="1219" r="1.5"/>
<circle cx="1673.2" cy="1219" r="1.5"/>
<circle cx="1674.4" cy="1219" r="1.5"/>
<circle cx="1676" cy="1219" r="1.5"/>
<circle cx="1677.7" cy="1219" r="1.5"/>
<circle cx="1679.1" cy="1219" r="1.5"/>
<circle cx="1680.6" cy="1219" r="1.5"/>
<circle cx="1682.2" cy="1219" r="1.5"/>
<circle cx="1683.3" cy="1219" r="1.5"/>
<circle cx="1684.1" cy="1219" r="1.5"/>
<circle cx="1686.4" cy="1219" r="1.5"/>
<circle cx="1687.1" cy="1219" r="1.5"/>
<circle cx="1688.8" cy="1219" r="1.5"/>
<circle cx="1690" cy="1219" r="1.5"/>
<circle cx="1691.8" cy="1219" r="1.5"/>
<circle cx="1692.6" cy="1219" r="1.5"/>
<circle cx="1694" cy="1219" r="1.5"/>
<circle cx="1695.4" cy="1219" r="1.5"/>
<circle cx="1696.7" cy="1219" r="1.5"/>
<circle cx="1699.1" cy="1219" r="1.5"/>
<circle cx="1700.1" cy="1219" r="1.5"/>
<circle cx="1701.2" cy="1219" r="1.5"/>
<circle cx="1702.6" cy="1219" r="1.5"/>
<circle cx="1704.8" cy="1219" r="1.5"/>
<circle cx="1705.6" cy="1219" r="1.5"/>
<circle cx="1706.7" cy="1219" r="1.5"/>
<circle cx="1708.8" cy="1219" r="1.5"/>
<circle cx="1710" cy="1219" r="1.5"/>
<circle cx="1711.8" cy="1219" r="1.5"/>
<circle cx="1712.1" cy="1219" r="1.5"/>
<circle cx="1714" cy="1219" r="1.5"/>
<circle cx="1715.8" cy="1219" r="1.5"/>
<circle cx="1717.2" cy="1219" r="1.5"/>
<circle cx="1718.7" cy="1219" r="1.5"/>
<circle cx="1719" cy="1219" r="1.5"/>
<circle cx="1720.8" cy="1219" r="1.5"/>
<circle cx="1721.9" cy="1219" r="1.5"/>
<circle cx="1723.4" cy="1219" r="1.5"/>
<circle cx="1725.8" cy="1219" r="1.5"/>
<circle cx="1726.7" cy="1219" r="1.5"/>
<circle cx="1728.6" cy="1219" r="1.5"/>
<circle cx="1729.3" cy="1219" r="1.5"/>
<circle cx="1731.3" cy="1219" r="1.5"/>
<circle cx="1732.2" cy="1219" r="1.5"/>
<circle cx="1733.4" cy="1219" r="1.5"/>
<circle cx="1735.4" cy="1219" r="1.5"/>
<circle cx="1737" cy="1219" r="1.5"/>
<circle cx="1737.4" cy="1219" r="1.5"/>
<circle cx="1739.4" cy="1219" r="1.5"/>
<circle cx="1740.8" cy="1219" r="1.5"/>
<circle cx="1741.7" cy="1219" r="1.5"/>
<circle cx="1743.3" cy="1219" r="1.5"/>
<circle cx="1744.4" cy="1219" r="1.5"/>
<circle cx="1745.9" cy="1219" r="1.5"/>
<circle cx="1747.4" cy="1219" r="1.5"/>
<circle cx="1749.2" cy="1219" r="1.5"/>
<circle cx="1750.7" cy="1219" r="1.5"/>
<circle cx="1751.5" cy="1219" r="1.5"/>
<circle cx="1752.7" cy="1219" r="1.5"/>
<circle cx="1754.5" cy="1219" r="1.5"/>
<circle cx="1756.3" cy="1219" r="1.5"/>
<circle cx="1757.1" cy="1219" r="1.5"/>
<circle cx="1758.7" cy="1219" r="1.5"/>
<circle cx="1760" cy="1219" r="1.5"/>
<circle cx="1762.1" cy="1219" r="1.5"/>
<circle cx="1763.2" cy="1219" r="1.5"/>
<circle cx="1764" cy="1219" r="1.5"/>
<circle cx="1765.4" cy="1219" r="1.5"/>
<circle cx="1767.2" cy="1219" r="1.5"/>
<circle cx="1768.8" cy="1219" r="1.5"/>
<circle cx="1770.3" cy="1219" r="1.5"/>
<circle cx="1771" cy="1219" r="1.5"/>
<circle cx="1772.5" cy="1219" r="1.5"/>
<circle cx="1774.6" cy="1219" r="1.5"/>
<circle cx="1775.7" cy="1219" r="1.5"/>
<circle cx="1776.9" cy="1219" r="1.5"/>
<circle cx="1778.3" cy="1219" r="1.5"/>
<circle cx="1780.6" cy="1219" r="1.5"/>
<circle cx="1781.1" cy="1219" r="1.5"/>
<circle cx="1782.9" cy="1219" r="1.5"/>
<circle cx="1784" cy="1219" r="1.5"/>
<circle cx="1785.5" cy="1219" r="1.5"/>
<circle cx="1787.5" cy="1219" r="1.5"/>
<circle cx="1789" cy="1219" r="1.5"/>
<circle cx="1789.6" cy="1219" r="1.5"/>
<circle cx="1790.8" cy="1219" r="1.5"/>
<circle cx="1792.9" cy="1219" r="1.5"/>
<circle cx="1793.6" cy="1219" r="1.5"/>
<circle cx="1794.8" cy="1219" r="1.5"/>
<circle cx="1797.3" cy="1219" r="1.5"/>
<circle cx="1798.1" cy="1219" r="1.5"/>
<circle cx="1817" cy="1219" r="1.5"/>
<circle cx="1820" cy="1219" r="1.5"/>
<circle cx="1827.5" cy="1219" r="1.5"/>
<circle cx="1841" cy="1219" r="1.5"/>
<circle cx="1843" cy="1219" r="1.5"/>
<circle cx="1845" cy="1219" r="1.5"/>
<circle cx="1856" cy="1219" r="1.5"/>
<circle cx="1858" cy="1219" r="1.5"/>
<circle cx="1859" cy="1219" r="1.5"/>
<circle cx="1861" cy="1219" r="1.5"/>
<circle cx="1871.7" cy="1219" r="1.5"/>
<circle cx="1916.5" cy="1219" r="1.5"/>
<circle cx="1947.4" cy="1219" r="1.5"/>
</g>
<polyline points="1416.9,1020.8 1947.4,976" fill="none" stroke="#34349a" stroke-width="1.8"/>
<text x="1412.5" y="1261.8" font-size="15.6" fill="#5e5e5e" text-anchor="middle" textLength="32" lengthAdjust="spacingAndGlyphs">20.0</text>
<text x="1532" y="1261.8" font-size="15.6" fill="#5e5e5e" text-anchor="middle" textLength="32" lengthAdjust="spacingAndGlyphs">22.5</text>
<text x="1651.5" y="1261.8" font-size="15.6" fill="#5e5e5e" text-anchor="middle" textLength="32" lengthAdjust="spacingAndGlyphs">25.0</text>
<text x="1771" y="1261.8" font-size="15.6" fill="#5e5e5e" text-anchor="middle" textLength="32" lengthAdjust="spacingAndGlyphs">27.5</text>
<text x="1890.5" y="1261.8" font-size="15.6" fill="#5e5e5e" text-anchor="middle" textLength="32" lengthAdjust="spacingAndGlyphs">30.0</text>
<text x="1681.5" y="1282" font-size="20.6" fill="#2e2e2e" text-anchor="middle" textLength="88" lengthAdjust="spacingAndGlyphs" stroke="#2e2e2e" stroke-width="0.3">soil water</text>
<text x="1343.8" y="1004" font-size="21" fill="#2e2e2e" text-anchor="middle" textLength="232" lengthAdjust="spacingAndGlyphs" transform="rotate(-90 1343.8 1004)" stroke="#2e2e2e" stroke-width="0.3">Probability of occurrence</text>
</g>
</svg>
</body>
</html>
